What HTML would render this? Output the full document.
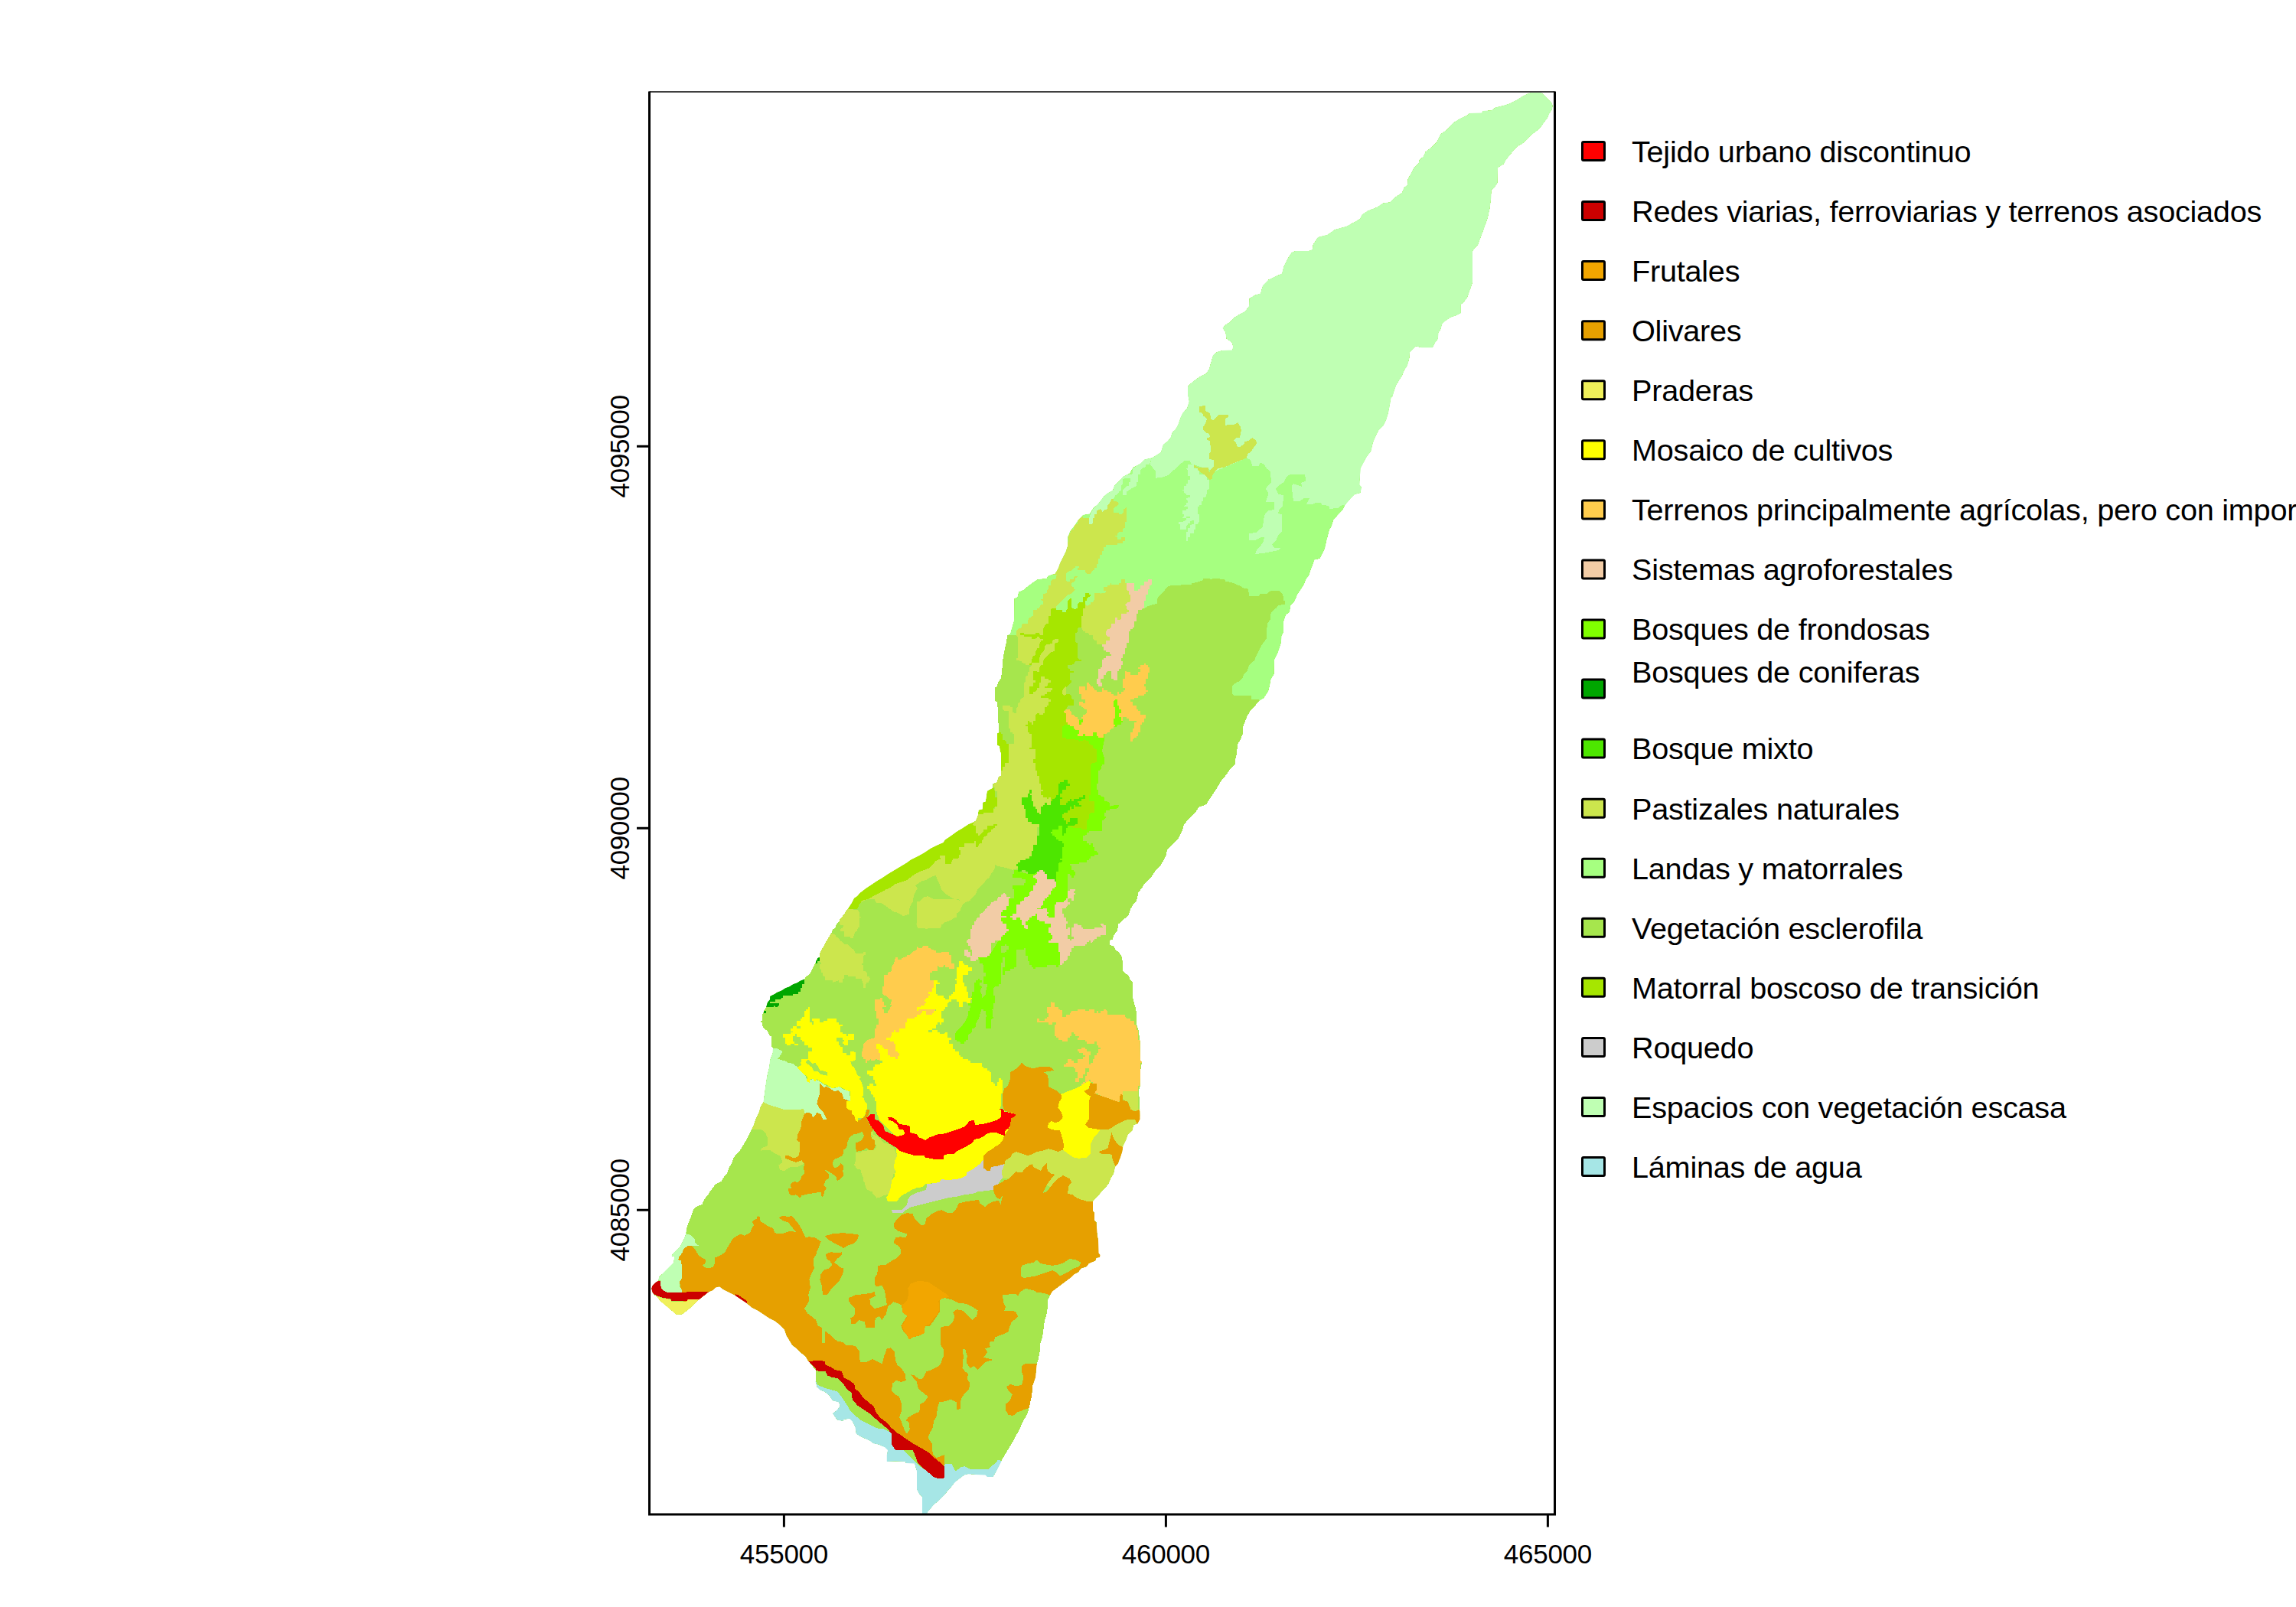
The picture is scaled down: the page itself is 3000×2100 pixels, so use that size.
<!DOCTYPE html>
<html><head><meta charset="utf-8"><title>Mapa de usos del suelo</title>
<style>html,body{margin:0;padding:0;background:#fff}body{width:3000px;height:2100px;overflow:hidden}svg{display:block}text{font-family:"Liberation Sans",sans-serif;fill:#000}</style>
</head><body>
<svg width="3000" height="2100" viewBox="0 0 3000 2100">
<rect width="3000" height="2100" fill="#fff"/>
<defs><clipPath id="oc"><path d="M1552.0,519.8 1552.0,505.0 1555.0,501.8 1561.2,496.8 1567.5,492.2 1576.2,488.0 1580.0,481.8 1582.5,473.0 1585.0,464.2 1590.0,460.0 1597.0,458.0 1610.0,457.5 1611.2,453.0 1609.5,447.5 1602.5,442.5 1601.2,434.2 1597.5,428.8 1600.5,425.0 1607.5,420.5 1612.5,415.0 1620.0,410.5 1627.0,406.8 1632.0,400.0 1632.5,390.0 1640.0,385.5 1647.0,383.5 1650.0,373.0 1657.5,365.5 1667.0,361.0 1675.0,357.5 1677.5,348.0 1682.5,338.0 1687.5,330.0 1692.5,328.0 1710.0,328.0 1715.0,326.0 1715.5,320.0 1722.0,310.0 1734.5,306.8 1744.0,300.0 1758.8,296.0 1769.2,290.5 1777.0,286.0 1779.5,280.5 1787.0,275.5 1798.8,271.0 1807.0,265.5 1816.2,264.2 1822.5,258.0 1832.0,251.8 1834.5,245.0 1839.0,241.8 1839.5,234.2 1844.5,225.0 1847.5,219.2 1853.8,213.0 1854.5,209.2 1860.0,204.2 1862.5,198.5 1871.2,191.8 1877.5,185.5 1880.0,180.0 1882.5,175.0 1890.0,170.0 1898.8,160.5 1907.5,155.0 1917.5,150.5 1919.5,148.0 1936.2,147.5 1937.5,145.0 1948.8,144.2 1953.8,140.5 1962.5,138.5 1972.0,135.5 1982.0,130.5 1988.8,126.0 1995.0,123.0 2000.0,121.0 2013.8,121.0 2018.0,124.2 2022.5,129.2 2027.0,133.5 2028.8,138.0 2028.0,143.0 2024.5,148.0 2022.0,154.2 2017.5,160.0 2013.8,165.5 2008.8,170.5 2001.2,176.0 1995.0,182.5 1989.5,187.5 1983.8,190.5 1977.5,196.8 1972.5,203.0 1967.5,209.2 1965.0,214.2 1957.0,219.2 1956.5,239.2 1952.5,245.5 1948.8,248.0 1948.2,259.2 1946.5,273.0 1943.8,285.0 1941.2,292.5 1937.0,304.2 1933.8,312.5 1931.2,320.0 1927.0,324.2 1924.0,328.5 1924.0,369.2 1921.2,377.5 1917.0,389.2 1912.0,395.5 1908.8,398.0 1908.8,409.2 1903.8,411.8 1895.0,415.0 1888.8,419.2 1884.5,423.0 1882.5,430.0 1879.5,435.0 1878.8,443.0 1875.0,448.0 1872.0,454.2 1857.5,454.2 1850.0,452.5 1845.0,457.5 1842.0,460.5 1841.5,468.0 1838.8,478.0 1835.0,483.5 1832.0,491.0 1827.5,498.0 1823.8,504.2 1821.2,511.8 1818.8,519.8 1818.0,516.0 1816.2,527.2 1813.8,539.8 1811.2,548.5 1807.5,556.0 1801.2,562.2 1797.5,569.8 1793.8,578.5 1791.2,589.8 1786.2,596.0 1782.0,603.5 1777.5,612.2 1776.2,633.5 1778.8,636.5 1777.5,644.0 1770.0,646.0 1763.8,652.2 1757.5,659.8 1754.5,666.0 1747.5,673.5 1742.0,679.8 1740.0,687.2 1737.0,692.2 1735.0,699.8 1733.0,707.2 1731.2,716.0 1728.8,721.5 1724.5,729.8 1717.5,731.5 1714.5,739.8 1712.0,746.0 1710.0,752.2 1706.2,757.2 1703.8,763.5 1700.0,769.8 1695.5,776.0 1691.2,786.0 1686.2,791.0 1685.0,799.8 1680.0,803.5 1677.0,812.2 1677.0,826.0 1674.5,831.0 1673.8,839.8 1671.2,848.5 1668.8,854.8 1665.0,862.2 1664.5,881.0 1660.0,888.5 1659.5,893.5 1657.0,903.5 1651.2,912.2 1645.0,916.0 1643.8,917.5 1638.8,923.8 1633.8,928.8 1630.0,935.0 1627.5,941.2 1624.5,948.8 1623.8,958.8 1621.2,966.2 1617.0,972.5 1616.2,983.8 1614.5,991.2 1613.8,998.8 1607.5,1005.0 1601.2,1013.8 1595.0,1021.2 1590.0,1030.0 1585.0,1037.5 1580.0,1045.0 1576.2,1051.2 1566.2,1055.0 1561.2,1062.5 1552.5,1071.2 1547.0,1077.5 1544.5,1086.2 1540.0,1095.0 1535.0,1100.0 1530.0,1105.0 1525.0,1110.0 1523.8,1117.5 1520.0,1125.0 1516.2,1131.2 1510.0,1137.5 1505.0,1145.0 1500.0,1150.0 1495.0,1155.0 1492.5,1160.0 1487.5,1166.2 1485.0,1177.5 1481.2,1181.2 1477.5,1187.5 1475.0,1195.0 1470.0,1200.0 1466.2,1203.8 1461.2,1207.5 1460.0,1216.2 1455.0,1222.5 1453.8,1227.5 1450.0,1228.8 1450.0,1235.0 1455.0,1236.2 1457.5,1241.2 1462.5,1245.0 1466.2,1251.2 1467.5,1268.8 1471.2,1272.5 1475.0,1275.0 1476.2,1280.0 1479.5,1282.5 1479.5,1301.8 1480.5,1305.0 1483.8,1317.5 1485.0,1323.8 1485.5,1340.0 1487.5,1346.2 1489.5,1360.0 1490.0,1385.0 1492.0,1387.5 1490.5,1397.5 1489.5,1420.0 1487.5,1426.2 1488.8,1435.0 1489.5,1462.5 1486.2,1468.8 1481.2,1470.0 1479.5,1477.5 1473.8,1482.5 1471.2,1490.0 1467.5,1497.5 1466.2,1505.0 1463.8,1512.5 1461.2,1520.0 1457.0,1525.0 1455.0,1533.8 1451.2,1540.0 1448.8,1546.2 1445.0,1551.2 1440.0,1556.2 1436.2,1561.2 1431.2,1566.2 1428.0,1570.0 1428.0,1582.5 1430.0,1585.0 1430.0,1595.0 1432.5,1597.5 1433.8,1615.0 1435.0,1620.0 1435.5,1637.5 1437.5,1640.0 1437.0,1643.0 1432.5,1643.8 1431.2,1647.5 1422.5,1651.2 1420.0,1655.0 1412.5,1657.5 1408.8,1662.5 1403.8,1665.0 1400.0,1668.8 1395.0,1672.5 1390.0,1676.2 1385.0,1680.0 1380.0,1683.8 1375.0,1687.5 1372.5,1691.8 1372.0,1692.5 1369.5,1697.5 1368.8,1708.8 1367.0,1720.0 1365.0,1725.0 1363.8,1735.0 1362.0,1747.5 1359.5,1755.0 1358.8,1765.0 1357.0,1775.0 1354.5,1783.8 1353.0,1800.0 1349.5,1810.0 1348.0,1825.0 1346.2,1832.5 1344.5,1840.0 1342.5,1847.5 1338.8,1853.8 1335.0,1861.2 1332.5,1867.5 1328.8,1873.8 1325.0,1881.2 1321.2,1887.5 1317.5,1893.8 1313.8,1900.0 1310.0,1906.2 1307.0,1912.5 1303.8,1918.8 1301.2,1923.8 1297.5,1930.0 1290.0,1930.0 1287.5,1927.5 1275.0,1927.0 1265.0,1926.2 1260.0,1927.5 1255.0,1931.2 1250.0,1935.0 1246.2,1938.8 1242.5,1943.8 1238.8,1947.5 1235.0,1952.5 1230.0,1957.5 1225.0,1962.5 1220.0,1966.2 1216.2,1971.2 1212.5,1975.0 1211.2,1978.0 1205.0,1978.0 1205.0,1956.2 1201.2,1952.5 1198.0,1946.2 1198.0,1922.5 1195.0,1912.5 1183.8,1912.0 1182.5,1910.0 1170.0,1909.5 1158.8,1910.0 1158.8,1901.2 1160.0,1895.0 1156.2,1891.2 1147.5,1887.5 1141.2,1886.2 1136.2,1882.5 1125.0,1877.5 1118.8,1873.8 1117.5,1865.0 1113.8,1857.5 1110.0,1853.8 1102.5,1855.0 1101.2,1857.0 1093.8,1855.5 1090.0,1850.0 1088.0,1847.0 1093.8,1842.5 1097.5,1837.5 1096.2,1832.5 1087.5,1830.0 1083.8,1823.8 1077.5,1818.8 1071.2,1816.2 1067.5,1812.5 1065.5,1805.0 1065.5,1790.0 1061.2,1785.0 1056.2,1778.8 1052.5,1772.5 1046.2,1767.5 1041.2,1762.5 1035.0,1757.5 1031.2,1751.2 1027.5,1745.0 1025.0,1737.5 1018.8,1731.2 1012.5,1726.2 1005.0,1722.5 997.5,1717.5 990.0,1712.5 982.5,1708.8 975.0,1702.5 967.5,1697.5 960.0,1692.5 952.5,1688.8 945.0,1685.0 940.0,1681.2 935.0,1682.5 931.2,1686.2 926.2,1688.0 922.5,1691.2 917.5,1695.0 912.5,1698.8 907.5,1703.8 902.5,1708.8 896.2,1713.8 891.2,1717.5 883.8,1718.0 877.5,1712.5 870.0,1706.2 862.5,1700.0 858.8,1695.0 855.0,1692.5 852.5,1688.8 851.2,1683.8 852.5,1680.0 856.2,1676.2 860.0,1673.8 861.2,1668.8 865.0,1665.0 870.0,1660.0 875.0,1655.0 880.0,1650.0 881.2,1642.5 877.5,1641.2 878.8,1638.8 883.8,1633.8 888.8,1628.8 891.2,1623.8 893.8,1618.8 896.2,1612.5 897.0,1606.2 898.8,1600.0 901.2,1593.8 903.8,1587.5 906.2,1580.0 911.2,1576.2 917.5,1573.8 920.0,1567.5 926.2,1560.0 927.5,1557.0 931.2,1552.5 935.0,1547.5 942.5,1543.8 946.2,1537.5 950.0,1533.8 952.5,1526.2 956.2,1520.0 958.8,1512.5 963.0,1507.5 967.5,1502.5 971.2,1496.2 975.0,1490.0 978.8,1482.5 982.0,1476.2 985.0,1470.0 987.5,1462.5 991.2,1455.0 993.8,1446.2 997.5,1440.0 999.5,1425.0 1001.2,1412.5 1003.0,1402.5 1005.0,1395.0 1006.2,1385.0 1009.5,1376.2 1010.0,1369.5 1008.0,1367.5 1008.1,1355.0 1006.0,1353.1 1003.8,1350.6 1003.1,1347.5 1000.6,1345.6 998.1,1343.8 996.2,1340.6 996.0,1336.2 993.1,1335.0 996.0,1333.8 996.2,1326.2 998.1,1321.2 1001.2,1315.6 1003.1,1309.4 1006.0,1306.2 1006.2,1301.9 1008.1,1301.0 1011.2,1299.4 1016.2,1296.5 1021.2,1294.4 1026.2,1291.2 1031.2,1289.4 1036.2,1286.2 1041.2,1284.4 1046.2,1281.5 1051.2,1279.4 1053.1,1276.2 1056.2,1274.4 1058.8,1271.2 1061.2,1266.2 1063.8,1261.2 1066.2,1256.2 1068.1,1251.9 1070.6,1251.2 1071.2,1246.2 1073.1,1241.2 1076.2,1236.9 1078.1,1232.5 1081.2,1227.5 1083.1,1224.4 1086.2,1219.4 1088.1,1214.4 1091.2,1212.5 1093.1,1207.5 1096.2,1204.4 1098.1,1200.0 1100.6,1197.5 1103.1,1194.4 1105.6,1190.0 1108.1,1187.5 1110.6,1183.8 1113.1,1180.0 1116.2,1173.8 1120.0,1171.2 1123.8,1167.0 1131.2,1161.2 1138.8,1156.2 1145.0,1152.0 1152.5,1147.5 1160.0,1142.5 1165.0,1139.5 1172.5,1135.0 1178.8,1131.2 1185.0,1127.5 1190.0,1123.8 1197.5,1120.0 1202.5,1117.5 1208.8,1113.8 1216.2,1108.8 1223.8,1105.0 1232.5,1101.2 1235.0,1097.5 1242.5,1092.5 1250.0,1087.0 1257.5,1082.5 1265.0,1077.5 1271.2,1075.0 1275.0,1072.5 1278.0,1065.0 1278.8,1058.8 1283.8,1057.5 1284.5,1048.8 1288.0,1047.5 1290.0,1033.8 1297.0,1030.0 1297.5,1023.8 1302.5,1022.5 1305.0,1015.0 1308.0,1013.8 1308.0,983.8 1307.0,982.5 1306.2,975.0 1303.0,973.8 1303.0,958.8 1305.0,957.5 1303.8,927.5 1303.0,917.5 1300.0,916.2 1300.0,900.0 1300.0,898.5 1302.5,897.2 1304.5,891.0 1308.0,886.0 1309.5,873.5 1310.5,861.0 1312.5,849.8 1315.0,838.5 1316.2,830.5 1320.0,828.5 1322.5,819.8 1325.0,811.0 1325.5,782.2 1329.5,780.5 1331.2,773.5 1337.5,771.0 1343.8,765.5 1350.0,761.0 1355.5,757.2 1367.5,756.0 1370.0,752.2 1378.8,749.8 1383.0,742.2 1385.0,736.0 1388.8,728.5 1392.5,721.0 1395.0,713.5 1395.5,701.0 1398.8,693.5 1403.8,687.2 1408.8,679.8 1415.0,673.0 1423.8,671.5 1428.8,663.5 1433.8,659.8 1438.8,653.5 1442.5,648.5 1447.0,644.8 1453.8,641.0 1456.2,634.8 1462.5,628.5 1467.5,623.0 1476.2,618.5 1480.5,611.0 1490.0,606.0 1495.5,600.5 1505.0,598.5 1511.2,594.8 1517.0,591.0 1520.0,581.0 1525.0,577.2 1529.5,572.2 1532.0,564.8 1536.2,561.0 1539.5,554.8 1542.5,546.0 1545.5,539.8 1551.2,533.5 1553.8,524.8 1552.5,516.0Z"/></clipPath></defs>
<g shape-rendering="crispEdges">
<path fill="#A6E64D" d="M1552.0,519.8 1552.0,505.0 1555.0,501.8 1561.2,496.8 1567.5,492.2 1576.2,488.0 1580.0,481.8 1582.5,473.0 1585.0,464.2 1590.0,460.0 1597.0,458.0 1610.0,457.5 1611.2,453.0 1609.5,447.5 1602.5,442.5 1601.2,434.2 1597.5,428.8 1600.5,425.0 1607.5,420.5 1612.5,415.0 1620.0,410.5 1627.0,406.8 1632.0,400.0 1632.5,390.0 1640.0,385.5 1647.0,383.5 1650.0,373.0 1657.5,365.5 1667.0,361.0 1675.0,357.5 1677.5,348.0 1682.5,338.0 1687.5,330.0 1692.5,328.0 1710.0,328.0 1715.0,326.0 1715.5,320.0 1722.0,310.0 1734.5,306.8 1744.0,300.0 1758.8,296.0 1769.2,290.5 1777.0,286.0 1779.5,280.5 1787.0,275.5 1798.8,271.0 1807.0,265.5 1816.2,264.2 1822.5,258.0 1832.0,251.8 1834.5,245.0 1839.0,241.8 1839.5,234.2 1844.5,225.0 1847.5,219.2 1853.8,213.0 1854.5,209.2 1860.0,204.2 1862.5,198.5 1871.2,191.8 1877.5,185.5 1880.0,180.0 1882.5,175.0 1890.0,170.0 1898.8,160.5 1907.5,155.0 1917.5,150.5 1919.5,148.0 1936.2,147.5 1937.5,145.0 1948.8,144.2 1953.8,140.5 1962.5,138.5 1972.0,135.5 1982.0,130.5 1988.8,126.0 1995.0,123.0 2000.0,121.0 2013.8,121.0 2018.0,124.2 2022.5,129.2 2027.0,133.5 2028.8,138.0 2028.0,143.0 2024.5,148.0 2022.0,154.2 2017.5,160.0 2013.8,165.5 2008.8,170.5 2001.2,176.0 1995.0,182.5 1989.5,187.5 1983.8,190.5 1977.5,196.8 1972.5,203.0 1967.5,209.2 1965.0,214.2 1957.0,219.2 1956.5,239.2 1952.5,245.5 1948.8,248.0 1948.2,259.2 1946.5,273.0 1943.8,285.0 1941.2,292.5 1937.0,304.2 1933.8,312.5 1931.2,320.0 1927.0,324.2 1924.0,328.5 1924.0,369.2 1921.2,377.5 1917.0,389.2 1912.0,395.5 1908.8,398.0 1908.8,409.2 1903.8,411.8 1895.0,415.0 1888.8,419.2 1884.5,423.0 1882.5,430.0 1879.5,435.0 1878.8,443.0 1875.0,448.0 1872.0,454.2 1857.5,454.2 1850.0,452.5 1845.0,457.5 1842.0,460.5 1841.5,468.0 1838.8,478.0 1835.0,483.5 1832.0,491.0 1827.5,498.0 1823.8,504.2 1821.2,511.8 1818.8,519.8 1818.0,516.0 1816.2,527.2 1813.8,539.8 1811.2,548.5 1807.5,556.0 1801.2,562.2 1797.5,569.8 1793.8,578.5 1791.2,589.8 1786.2,596.0 1782.0,603.5 1777.5,612.2 1776.2,633.5 1778.8,636.5 1777.5,644.0 1770.0,646.0 1763.8,652.2 1757.5,659.8 1754.5,666.0 1747.5,673.5 1742.0,679.8 1740.0,687.2 1737.0,692.2 1735.0,699.8 1733.0,707.2 1731.2,716.0 1728.8,721.5 1724.5,729.8 1717.5,731.5 1714.5,739.8 1712.0,746.0 1710.0,752.2 1706.2,757.2 1703.8,763.5 1700.0,769.8 1695.5,776.0 1691.2,786.0 1686.2,791.0 1685.0,799.8 1680.0,803.5 1677.0,812.2 1677.0,826.0 1674.5,831.0 1673.8,839.8 1671.2,848.5 1668.8,854.8 1665.0,862.2 1664.5,881.0 1660.0,888.5 1659.5,893.5 1657.0,903.5 1651.2,912.2 1645.0,916.0 1643.8,917.5 1638.8,923.8 1633.8,928.8 1630.0,935.0 1627.5,941.2 1624.5,948.8 1623.8,958.8 1621.2,966.2 1617.0,972.5 1616.2,983.8 1614.5,991.2 1613.8,998.8 1607.5,1005.0 1601.2,1013.8 1595.0,1021.2 1590.0,1030.0 1585.0,1037.5 1580.0,1045.0 1576.2,1051.2 1566.2,1055.0 1561.2,1062.5 1552.5,1071.2 1547.0,1077.5 1544.5,1086.2 1540.0,1095.0 1535.0,1100.0 1530.0,1105.0 1525.0,1110.0 1523.8,1117.5 1520.0,1125.0 1516.2,1131.2 1510.0,1137.5 1505.0,1145.0 1500.0,1150.0 1495.0,1155.0 1492.5,1160.0 1487.5,1166.2 1485.0,1177.5 1481.2,1181.2 1477.5,1187.5 1475.0,1195.0 1470.0,1200.0 1466.2,1203.8 1461.2,1207.5 1460.0,1216.2 1455.0,1222.5 1453.8,1227.5 1450.0,1228.8 1450.0,1235.0 1455.0,1236.2 1457.5,1241.2 1462.5,1245.0 1466.2,1251.2 1467.5,1268.8 1471.2,1272.5 1475.0,1275.0 1476.2,1280.0 1479.5,1282.5 1479.5,1301.8 1480.5,1305.0 1483.8,1317.5 1485.0,1323.8 1485.5,1340.0 1487.5,1346.2 1489.5,1360.0 1490.0,1385.0 1492.0,1387.5 1490.5,1397.5 1489.5,1420.0 1487.5,1426.2 1488.8,1435.0 1489.5,1462.5 1486.2,1468.8 1481.2,1470.0 1479.5,1477.5 1473.8,1482.5 1471.2,1490.0 1467.5,1497.5 1466.2,1505.0 1463.8,1512.5 1461.2,1520.0 1457.0,1525.0 1455.0,1533.8 1451.2,1540.0 1448.8,1546.2 1445.0,1551.2 1440.0,1556.2 1436.2,1561.2 1431.2,1566.2 1428.0,1570.0 1428.0,1582.5 1430.0,1585.0 1430.0,1595.0 1432.5,1597.5 1433.8,1615.0 1435.0,1620.0 1435.5,1637.5 1437.5,1640.0 1437.0,1643.0 1432.5,1643.8 1431.2,1647.5 1422.5,1651.2 1420.0,1655.0 1412.5,1657.5 1408.8,1662.5 1403.8,1665.0 1400.0,1668.8 1395.0,1672.5 1390.0,1676.2 1385.0,1680.0 1380.0,1683.8 1375.0,1687.5 1372.5,1691.8 1372.0,1692.5 1369.5,1697.5 1368.8,1708.8 1367.0,1720.0 1365.0,1725.0 1363.8,1735.0 1362.0,1747.5 1359.5,1755.0 1358.8,1765.0 1357.0,1775.0 1354.5,1783.8 1353.0,1800.0 1349.5,1810.0 1348.0,1825.0 1346.2,1832.5 1344.5,1840.0 1342.5,1847.5 1338.8,1853.8 1335.0,1861.2 1332.5,1867.5 1328.8,1873.8 1325.0,1881.2 1321.2,1887.5 1317.5,1893.8 1313.8,1900.0 1310.0,1906.2 1307.0,1912.5 1303.8,1918.8 1301.2,1923.8 1297.5,1930.0 1290.0,1930.0 1287.5,1927.5 1275.0,1927.0 1265.0,1926.2 1260.0,1927.5 1255.0,1931.2 1250.0,1935.0 1246.2,1938.8 1242.5,1943.8 1238.8,1947.5 1235.0,1952.5 1230.0,1957.5 1225.0,1962.5 1220.0,1966.2 1216.2,1971.2 1212.5,1975.0 1211.2,1978.0 1205.0,1978.0 1205.0,1956.2 1201.2,1952.5 1198.0,1946.2 1198.0,1922.5 1195.0,1912.5 1183.8,1912.0 1182.5,1910.0 1170.0,1909.5 1158.8,1910.0 1158.8,1901.2 1160.0,1895.0 1156.2,1891.2 1147.5,1887.5 1141.2,1886.2 1136.2,1882.5 1125.0,1877.5 1118.8,1873.8 1117.5,1865.0 1113.8,1857.5 1110.0,1853.8 1102.5,1855.0 1101.2,1857.0 1093.8,1855.5 1090.0,1850.0 1088.0,1847.0 1093.8,1842.5 1097.5,1837.5 1096.2,1832.5 1087.5,1830.0 1083.8,1823.8 1077.5,1818.8 1071.2,1816.2 1067.5,1812.5 1065.5,1805.0 1065.5,1790.0 1061.2,1785.0 1056.2,1778.8 1052.5,1772.5 1046.2,1767.5 1041.2,1762.5 1035.0,1757.5 1031.2,1751.2 1027.5,1745.0 1025.0,1737.5 1018.8,1731.2 1012.5,1726.2 1005.0,1722.5 997.5,1717.5 990.0,1712.5 982.5,1708.8 975.0,1702.5 967.5,1697.5 960.0,1692.5 952.5,1688.8 945.0,1685.0 940.0,1681.2 935.0,1682.5 931.2,1686.2 926.2,1688.0 922.5,1691.2 917.5,1695.0 912.5,1698.8 907.5,1703.8 902.5,1708.8 896.2,1713.8 891.2,1717.5 883.8,1718.0 877.5,1712.5 870.0,1706.2 862.5,1700.0 858.8,1695.0 855.0,1692.5 852.5,1688.8 851.2,1683.8 852.5,1680.0 856.2,1676.2 860.0,1673.8 861.2,1668.8 865.0,1665.0 870.0,1660.0 875.0,1655.0 880.0,1650.0 881.2,1642.5 877.5,1641.2 878.8,1638.8 883.8,1633.8 888.8,1628.8 891.2,1623.8 893.8,1618.8 896.2,1612.5 897.0,1606.2 898.8,1600.0 901.2,1593.8 903.8,1587.5 906.2,1580.0 911.2,1576.2 917.5,1573.8 920.0,1567.5 926.2,1560.0 927.5,1557.0 931.2,1552.5 935.0,1547.5 942.5,1543.8 946.2,1537.5 950.0,1533.8 952.5,1526.2 956.2,1520.0 958.8,1512.5 963.0,1507.5 967.5,1502.5 971.2,1496.2 975.0,1490.0 978.8,1482.5 982.0,1476.2 985.0,1470.0 987.5,1462.5 991.2,1455.0 993.8,1446.2 997.5,1440.0 999.5,1425.0 1001.2,1412.5 1003.0,1402.5 1005.0,1395.0 1006.2,1385.0 1009.5,1376.2 1010.0,1369.5 1008.0,1367.5 1008.1,1355.0 1006.0,1353.1 1003.8,1350.6 1003.1,1347.5 1000.6,1345.6 998.1,1343.8 996.2,1340.6 996.0,1336.2 993.1,1335.0 996.0,1333.8 996.2,1326.2 998.1,1321.2 1001.2,1315.6 1003.1,1309.4 1006.0,1306.2 1006.2,1301.9 1008.1,1301.0 1011.2,1299.4 1016.2,1296.5 1021.2,1294.4 1026.2,1291.2 1031.2,1289.4 1036.2,1286.2 1041.2,1284.4 1046.2,1281.5 1051.2,1279.4 1053.1,1276.2 1056.2,1274.4 1058.8,1271.2 1061.2,1266.2 1063.8,1261.2 1066.2,1256.2 1068.1,1251.9 1070.6,1251.2 1071.2,1246.2 1073.1,1241.2 1076.2,1236.9 1078.1,1232.5 1081.2,1227.5 1083.1,1224.4 1086.2,1219.4 1088.1,1214.4 1091.2,1212.5 1093.1,1207.5 1096.2,1204.4 1098.1,1200.0 1100.6,1197.5 1103.1,1194.4 1105.6,1190.0 1108.1,1187.5 1110.6,1183.8 1113.1,1180.0 1116.2,1173.8 1120.0,1171.2 1123.8,1167.0 1131.2,1161.2 1138.8,1156.2 1145.0,1152.0 1152.5,1147.5 1160.0,1142.5 1165.0,1139.5 1172.5,1135.0 1178.8,1131.2 1185.0,1127.5 1190.0,1123.8 1197.5,1120.0 1202.5,1117.5 1208.8,1113.8 1216.2,1108.8 1223.8,1105.0 1232.5,1101.2 1235.0,1097.5 1242.5,1092.5 1250.0,1087.0 1257.5,1082.5 1265.0,1077.5 1271.2,1075.0 1275.0,1072.5 1278.0,1065.0 1278.8,1058.8 1283.8,1057.5 1284.5,1048.8 1288.0,1047.5 1290.0,1033.8 1297.0,1030.0 1297.5,1023.8 1302.5,1022.5 1305.0,1015.0 1308.0,1013.8 1308.0,983.8 1307.0,982.5 1306.2,975.0 1303.0,973.8 1303.0,958.8 1305.0,957.5 1303.8,927.5 1303.0,917.5 1300.0,916.2 1300.0,900.0 1300.0,898.5 1302.5,897.2 1304.5,891.0 1308.0,886.0 1309.5,873.5 1310.5,861.0 1312.5,849.8 1315.0,838.5 1316.2,830.5 1320.0,828.5 1322.5,819.8 1325.0,811.0 1325.5,782.2 1329.5,780.5 1331.2,773.5 1337.5,771.0 1343.8,765.5 1350.0,761.0 1355.5,757.2 1367.5,756.0 1370.0,752.2 1378.8,749.8 1383.0,742.2 1385.0,736.0 1388.8,728.5 1392.5,721.0 1395.0,713.5 1395.5,701.0 1398.8,693.5 1403.8,687.2 1408.8,679.8 1415.0,673.0 1423.8,671.5 1428.8,663.5 1433.8,659.8 1438.8,653.5 1442.5,648.5 1447.0,644.8 1453.8,641.0 1456.2,634.8 1462.5,628.5 1467.5,623.0 1476.2,618.5 1480.5,611.0 1490.0,606.0 1495.5,600.5 1505.0,598.5 1511.2,594.8 1517.0,591.0 1520.0,581.0 1525.0,577.2 1529.5,572.2 1532.0,564.8 1536.2,561.0 1539.5,554.8 1542.5,546.0 1545.5,539.8 1551.2,533.5 1553.8,524.8 1552.5,516.0Z"/>
<g clip-path="url(#oc)">
<path fill="#A6FF80" d="M1290.0,503.5 1865.0,503.5 1865.0,691.0 1715.0,917.8 1645.0,917.8 1645.0,914.0 1635.5,913.5 1635.0,909.0 1612.5,908.5 1610.0,907.2 1610.0,896.0 1615.0,892.2 1620.0,889.8 1623.8,886.0 1625.0,881.0 1630.0,876.0 1631.2,871.0 1635.0,866.0 1638.8,863.5 1641.2,857.2 1643.8,852.2 1646.2,847.2 1650.0,841.0 1654.5,834.8 1655.0,823.5 1656.2,814.8 1659.5,809.8 1660.0,802.2 1663.8,797.2 1667.5,794.8 1670.0,791.0 1678.8,789.8 1679.5,786.0 1677.5,784.8 1676.2,777.2 1671.2,772.2 1660.0,772.2 1656.2,775.5 1646.2,776.5 1645.0,778.5 1632.0,779.0 1631.2,769.8 1625.0,768.5 1621.2,766.0 1615.0,763.5 1608.8,761.0 1601.2,759.8 1600.0,757.2 1590.0,756.0 1581.2,756.8 1580.0,755.5 1572.5,755.5 1571.2,758.5 1563.8,761.0 1557.5,762.2 1556.2,764.2 1530.0,764.8 1525.0,767.2 1521.2,772.2 1516.2,777.2 1512.0,782.2 1512.0,788.5 1507.5,789.8 1500.0,792.2 1495.0,795.0 1465.0,803.5 1418.0,803.5 1375.0,806.0 1352.5,816.0 1328.0,830.0 1315.0,830.0 1290.0,830.0Z"/>
<path fill="#BFFFB3" d="M1415.0,116.0 2040.0,116.0 2040.0,656.0 1757.0,659.8 1752.5,660.5 1748.8,664.0 1737.5,664.8 1736.2,661.0 1727.5,659.8 1726.2,657.2 1718.8,657.2 1715.0,659.0 1707.5,658.5 1711.2,650.5 1703.8,651.0 1697.5,655.5 1690.0,654.8 1687.5,634.8 1690.0,632.2 1701.2,636.0 1700.0,631.0 1706.2,628.5 1705.0,619.8 1685.0,620.5 1681.2,623.0 1677.5,629.8 1672.5,633.5 1667.0,638.5 1670.0,645.5 1677.0,647.2 1676.2,661.0 1665.0,654.8 1653.8,656.0 1657.5,644.8 1653.8,638.5 1661.2,629.8 1659.5,616.0 1655.0,612.2 1651.2,606.0 1646.2,604.8 1645.0,609.0 1636.2,608.5 1633.8,601.0 1628.8,598.5 1587.5,616.0 1560.0,607.2 1556.2,606.0 1555.0,602.2 1547.5,602.2 1541.2,607.2 1536.2,612.2 1530.0,617.2 1526.2,621.0 1518.8,623.5 1510.0,624.8 1509.5,614.8 1502.5,607.2 1505.0,598.5 1415.0,598.5Z"/>
<path fill="#BFFFB3" d="M1653.8,656.0 1665.0,654.8 1676.2,661.0 1671.2,666.0 1670.0,671.0 1674.5,672.2 1674.5,694.8 1670.0,699.8 1667.5,706.0 1662.0,711.0 1665.0,716.0 1673.8,715.5 1670.0,719.0 1650.0,723.0 1640.0,724.0 1642.0,718.5 1650.0,709.8 1652.0,702.2 1647.5,702.2 1640.0,706.0 1632.0,706.0 1632.0,697.2 1641.2,696.0 1650.0,688.5 1651.2,678.5 1653.0,671.0 1657.5,667.2 1665.0,666.0 1664.5,655.5Z"/>
<path fill="#BFFFB3" d="M1551.9,607.2 1551.9,611.9 1550.0,612.5 1551.9,614.4 1552.2,621.9 1555.0,622.2 1555.0,626.9 1552.2,627.2 1551.9,631.9 1550.0,632.5 1549.8,635.0 1547.2,635.2 1546.9,640.0 1545.0,640.6 1547.2,641.9 1547.2,644.4 1550.0,645.0 1550.0,646.9 1555.0,647.2 1555.0,649.8 1552.2,650.0 1550.0,651.9 1551.9,655.0 1551.9,656.9 1550.0,657.5 1549.8,660.0 1547.2,660.6 1547.2,661.9 1551.9,662.2 1551.9,664.8 1550.0,665.0 1549.8,666.9 1545.0,667.5 1545.0,671.9 1546.9,672.2 1546.9,675.0 1545.0,676.9 1550.0,676.9 1550.0,675.0 1555.0,675.0 1555.0,676.9 1550.0,677.5 1549.8,679.4 1545.0,681.9 1540.0,682.2 1540.0,684.8 1541.9,685.0 1542.2,691.9 1549.8,691.9 1550.0,686.9 1551.9,686.2 1552.2,684.4 1555.0,683.8 1555.0,681.9 1557.2,680.0 1560.0,680.0 1559.8,684.8 1557.2,685.2 1555.0,686.9 1555.0,689.8 1551.9,690.0 1551.9,695.0 1550.0,695.2 1550.0,706.9 1551.9,706.9 1552.2,701.9 1555.0,701.5 1555.0,697.2 1559.8,696.9 1560.0,691.9 1561.9,691.5 1562.2,685.0 1565.0,684.8 1566.9,681.9 1566.9,671.9 1565.0,671.5 1565.0,662.2 1566.9,661.9 1567.2,660.0 1570.0,659.8 1570.2,655.0 1572.2,654.8 1572.5,650.0 1575.0,649.8 1576.9,645.0 1577.2,640.0 1580.0,639.4 1580.2,627.2 1577.2,626.9 1576.9,622.2 1575.0,621.9 1574.8,619.8 1567.2,619.8 1566.9,615.0 1565.0,614.8 1565.0,612.2 1560.2,611.9 1560.0,606.9 1556.9,606.9Z"/>
<path fill="#BFFFB3" d="M1505.0,596.9 1501.9,606.9 1497.5,606.9 1497.2,610.0 1492.5,611.9 1490.0,615.0 1489.8,620.0 1487.2,620.2 1486.9,630.0 1485.0,630.6 1484.8,635.0 1480.0,637.5 1475.0,640.6 1472.5,642.5 1471.9,646.9 1467.2,646.9 1467.2,640.0 1472.5,635.0 1475.0,634.4 1475.0,630.0 1476.9,629.8 1476.9,625.0 1467.2,625.6 1466.9,632.5 1465.0,635.0 1465.0,641.2 1461.9,641.9 1461.2,645.0 1456.9,647.5 1455.0,652.5 1452.5,652.2 1450.0,657.5 1447.2,660.0 1446.9,665.0 1442.5,666.9 1440.0,670.0 1439.8,666.9 1437.5,665.0 1433.1,667.5 1432.8,671.9 1430.0,672.5 1429.8,676.9 1428.1,677.5 1427.8,684.4 1423.1,684.8 1423.1,677.5 1425.0,671.2 1430.0,663.1 1435.0,657.5 1438.1,652.5 1442.5,647.2 1447.5,642.5 1455.0,640.0 1455.2,632.5 1462.5,626.9 1467.2,622.2 1472.5,620.0 1480.0,619.4 1480.2,612.5 1487.5,606.9 1492.5,601.9 1495.0,600.0Z"/>
<path fill="#CCE64D" d="M1567.0,531.5 1574.5,529.8 1575.0,537.2 1581.2,539.8 1582.0,548.0 1585.0,549.0 1592.5,542.2 1604.5,541.8 1604.5,544.8 1601.2,547.2 1600.5,556.0 1606.2,554.8 1611.2,555.5 1617.5,552.2 1620.5,557.2 1622.0,562.2 1620.0,571.5 1615.0,572.2 1612.0,576.0 1615.0,578.5 1617.0,584.0 1621.2,583.5 1625.5,579.8 1626.2,577.2 1631.2,576.0 1636.2,572.2 1641.2,575.5 1642.0,579.8 1638.8,583.5 1635.0,589.8 1630.0,593.5 1628.8,598.5 1622.5,601.0 1615.0,604.0 1607.5,607.2 1600.0,610.5 1591.2,612.2 1587.5,616.0 1584.5,621.0 1583.8,626.0 1580.5,627.2 1580.0,631.5 1579.5,626.0 1576.2,622.2 1571.2,619.0 1566.2,614.8 1564.5,612.2 1560.0,610.5 1560.0,607.2 1565.0,610.5 1571.2,610.5 1578.8,611.5 1580.0,618.5 1581.2,614.8 1586.2,609.8 1585.5,601.0 1580.0,599.8 1580.0,592.2 1582.0,591.0 1581.2,576.0 1577.0,574.8 1577.5,572.2 1581.2,571.0 1580.0,567.2 1575.0,564.8 1572.0,561.0 1572.5,557.2 1575.0,553.5 1577.0,547.2 1572.5,543.5 1571.2,539.8 1567.0,538.5Z"/>
<path fill="#CCE64D" d="M1452.5,652.2 1455.0,652.5 1455.0,655.0 1460.0,655.6 1461.9,658.1 1460.0,661.2 1456.9,662.5 1455.0,665.0 1455.0,670.0 1461.9,670.2 1462.5,671.9 1465.0,671.9 1467.5,670.0 1467.5,665.6 1470.0,665.0 1471.9,662.2 1471.9,681.9 1470.0,682.5 1469.8,690.0 1467.5,690.6 1466.9,695.0 1462.5,695.2 1460.0,697.2 1460.0,700.0 1456.9,700.6 1460.0,701.9 1460.2,705.0 1465.0,704.8 1465.2,702.2 1469.8,702.2 1469.8,706.9 1466.9,707.5 1466.9,709.8 1460.0,710.0 1459.8,711.9 1445.0,712.2 1444.8,714.8 1442.2,715.0 1441.9,720.0 1440.0,720.2 1439.8,725.0 1437.5,725.2 1437.2,730.0 1435.0,730.2 1434.8,736.9 1432.8,737.2 1432.5,741.9 1430.0,742.2 1429.8,745.0 1427.8,745.2 1425.0,749.8 1420.0,749.8 1418.1,746.9 1417.8,745.0 1408.1,744.8 1408.1,742.2 1409.8,741.9 1409.8,740.0 1405.6,740.0 1405.0,741.9 1402.8,742.2 1400.0,745.0 1398.8,745.0 1398.8,692.5 1400.0,692.5 1402.8,692.2 1403.1,687.5 1405.0,685.2 1408.1,684.8 1408.1,680.0 1410.0,677.5 1415.0,675.0 1415.2,677.2 1423.1,676.9 1423.1,684.8 1427.8,684.4 1428.1,677.5 1429.8,676.9 1430.0,672.5 1432.8,671.9 1433.1,667.5 1437.5,665.0 1439.8,666.9 1440.0,670.0 1442.5,666.9 1446.9,665.0 1447.2,660.0 1450.0,657.5Z"/>
<path fill="#CCE64D" d="M1400.5,692.5 1396.2,701.0 1395.0,713.5 1392.5,721.0 1388.8,728.5 1385.0,736.0 1382.5,738.8 1405.5,738.8 1405.5,692.5Z"/>
<path fill="#CCE64D" d="M1383.1,738.8 1405.0,738.8 1402.5,743.1 1400.0,745.6 1395.0,746.9 1393.1,750.0 1393.1,759.4 1397.5,760.0 1398.1,757.5 1403.1,756.9 1403.8,752.5 1407.5,752.5 1407.5,754.4 1405.0,755.0 1404.4,759.4 1400.0,762.5 1400.0,766.2 1403.1,766.9 1403.1,770.0 1405.0,770.6 1403.1,772.5 1400.0,775.6 1395.0,777.5 1393.1,780.0 1390.0,782.5 1388.1,785.0 1385.0,787.5 1382.5,790.0 1380.0,791.9 1380.0,795.6 1385.0,840.0 1377.5,865.0 1375.0,902.5 1372.8,915.0 1370.0,917.5 1368.1,921.2 1365.0,924.4 1365.0,931.2 1362.5,933.8 1358.1,931.9 1353.1,934.4 1353.1,940.9 1318.1,940.9 1318.1,928.8 1312.5,928.8 1310.0,926.2 1310.0,921.9 1320.0,921.9 1320.6,923.8 1323.1,924.4 1323.1,931.2 1327.5,931.9 1328.1,928.8 1330.0,928.1 1330.0,918.8 1333.1,918.1 1333.1,914.4 1338.1,911.2 1338.1,907.5 1340.0,906.9 1340.0,903.8 1338.1,902.5 1338.1,891.9 1340.0,891.2 1340.0,883.8 1343.1,883.1 1343.1,878.8 1345.0,878.1 1345.0,872.5 1348.1,868.8 1345.0,868.8 1340.0,868.8 1340.0,866.9 1335.0,866.2 1334.8,863.8 1328.1,863.1 1328.1,860.0 1330.0,859.4 1330.0,831.9 1328.1,831.2 1328.1,825.0 1330.0,821.9 1334.8,820.0 1335.0,815.6 1342.5,815.0 1343.1,810.6 1345.0,807.5 1348.1,805.6 1350.0,805.0 1350.0,797.5 1354.8,796.9 1355.0,795.0 1358.1,794.4 1360.0,790.0 1363.1,789.4 1363.1,785.0 1360.2,784.4 1360.2,782.5 1363.1,782.5 1363.1,776.2 1367.8,775.0 1368.1,771.2 1370.0,770.0 1370.0,765.6 1372.8,765.0 1373.1,760.0 1375.0,757.5 1380.0,756.2 1380.0,752.5 1382.5,750.6 1370.0,750.6Z"/>
<path fill="#CCE64D" d="M1441.9,767.5 1446.9,766.9 1447.5,765.0 1450.6,764.4 1450.6,762.2 1451.9,762.5 1451.9,764.4 1461.9,764.4 1462.5,762.2 1465.0,761.9 1465.0,757.2 1469.8,757.2 1470.0,761.9 1471.9,762.5 1471.9,771.2 1475.0,771.9 1475.0,776.9 1476.9,777.5 1476.9,786.2 1473.1,787.2 1470.0,790.6 1471.9,791.9 1472.2,796.2 1474.8,797.5 1474.8,800.0 1471.9,800.6 1471.5,801.9 1465.0,802.2 1464.8,809.4 1460.0,809.8 1459.8,807.2 1457.2,807.2 1456.9,814.8 1452.2,815.0 1451.9,820.0 1449.8,821.9 1446.9,822.5 1445.0,825.6 1445.0,829.4 1446.9,831.9 1449.8,832.5 1449.8,836.9 1445.0,837.5 1444.8,841.9 1433.1,841.9 1432.8,836.9 1430.0,836.5 1427.5,834.4 1427.5,830.0 1422.8,829.8 1422.5,827.5 1417.8,826.9 1417.5,825.0 1414.8,824.4 1414.4,821.9 1412.8,820.0 1413.1,805.6 1414.8,804.8 1415.0,795.0 1418.1,794.4 1418.1,790.0 1420.0,791.9 1425.0,789.4 1425.0,787.2 1428.1,786.9 1430.0,782.5 1430.0,775.2 1437.5,775.0 1438.1,776.9 1440.0,775.0 1445.0,774.4 1445.0,772.2 1441.9,771.9Z"/>
<path fill="#A6E600" d="M1373.1,796.9 1375.0,795.0 1380.0,795.0 1380.0,796.9 1388.1,796.9 1388.1,799.8 1392.8,799.8 1393.1,796.9 1395.2,796.2 1395.2,785.0 1398.1,781.9 1399.8,782.5 1400.0,794.4 1403.1,795.0 1403.8,796.5 1407.5,795.0 1408.1,790.0 1410.0,787.2 1415.0,786.9 1415.2,780.2 1418.1,779.8 1418.1,775.2 1422.5,775.0 1423.1,776.9 1425.0,777.5 1424.4,779.8 1422.5,780.0 1420.0,781.9 1420.0,785.0 1417.8,785.6 1418.1,794.4 1415.0,795.0 1414.8,804.8 1413.1,805.6 1412.8,820.0 1410.0,820.0 1408.1,821.9 1408.1,826.2 1405.0,827.5 1405.0,839.4 1408.1,840.0 1408.1,860.0 1410.0,861.9 1413.1,862.5 1412.8,863.8 1405.0,864.4 1403.1,868.1 1395.2,869.4 1395.2,873.1 1398.1,874.4 1398.1,876.9 1403.1,877.2 1403.1,878.8 1398.1,879.4 1398.1,888.8 1400.0,889.4 1400.0,891.2 1397.8,893.8 1395.0,896.2 1392.5,898.8 1390.0,899.4 1388.1,902.5 1388.1,907.5 1390.0,908.8 1392.5,908.1 1393.1,906.9 1397.5,907.5 1400.0,910.0 1400.0,913.1 1403.1,914.4 1403.1,921.2 1400.0,921.9 1399.4,919.4 1395.6,919.4 1395.0,923.8 1393.1,924.4 1393.1,926.9 1392.8,940.9 1353.1,940.9 1353.1,934.4 1355.0,933.8 1358.1,931.9 1362.5,933.8 1365.0,931.2 1365.0,923.8 1368.1,921.2 1370.0,916.9 1372.5,916.2 1372.8,914.4 1370.0,911.9 1360.0,911.5 1360.0,909.4 1365.0,908.8 1368.1,903.8 1372.5,903.1 1375.0,901.2 1375.0,899.4 1365.0,898.8 1365.0,896.9 1368.1,896.2 1372.5,891.2 1372.8,889.4 1370.0,886.9 1365.0,886.5 1364.8,884.4 1360.2,884.4 1360.0,891.9 1358.1,892.5 1358.1,898.8 1355.0,899.4 1353.1,902.5 1350.0,903.8 1350.0,906.9 1345.0,906.9 1345.0,899.4 1348.1,896.9 1350.0,896.2 1350.0,891.9 1352.5,891.2 1352.5,888.8 1350.2,888.8 1350.0,876.9 1355.0,876.9 1355.0,878.8 1357.5,878.8 1357.8,872.5 1360.0,869.4 1362.8,868.8 1363.1,863.8 1365.0,860.0 1368.1,857.5 1372.5,853.1 1372.8,851.9 1378.1,851.2 1378.1,841.9 1380.0,840.0 1382.8,839.4 1382.8,835.0 1378.1,835.2 1375.0,837.5 1375.0,841.2 1368.1,841.9 1365.0,845.0 1365.0,848.1 1363.1,851.9 1360.0,855.0 1358.1,860.0 1357.8,866.2 1348.1,866.5 1347.8,868.8 1345.0,868.8 1345.0,866.9 1348.1,866.2 1348.1,861.9 1350.0,856.9 1353.1,856.2 1353.1,851.9 1355.0,847.5 1358.1,846.9 1358.1,841.9 1360.0,837.5 1362.8,836.9 1363.1,835.0 1358.1,834.4 1358.1,831.9 1355.0,831.9 1354.8,834.4 1348.1,834.8 1347.8,832.2 1338.1,831.9 1338.1,829.8 1333.1,829.8 1333.1,827.2 1338.1,827.2 1338.1,829.4 1352.5,829.4 1353.1,827.2 1357.5,827.2 1358.1,829.4 1362.8,829.8 1363.1,821.9 1365.0,817.5 1368.1,815.0 1370.0,814.4 1370.0,805.0 1373.1,804.8Z"/>
<path fill="#F2CCA6" d="M1471.9,762.2 1481.9,762.2 1481.9,771.9 1486.9,771.9 1487.5,770.0 1490.0,769.8 1490.0,765.0 1495.0,765.0 1495.0,760.0 1500.0,759.8 1500.0,757.2 1504.8,757.2 1504.8,764.4 1502.5,765.0 1502.2,770.0 1500.0,770.6 1499.8,776.9 1496.9,777.5 1496.9,785.0 1495.0,785.6 1494.8,795.0 1491.9,795.2 1491.5,796.9 1487.2,797.2 1486.9,801.9 1485.0,802.2 1484.8,811.9 1482.2,812.5 1481.9,820.0 1480.0,820.6 1479.8,821.9 1476.9,822.5 1476.5,825.0 1475.0,825.2 1474.8,840.0 1471.9,840.2 1471.9,846.9 1470.0,847.2 1469.8,855.0 1466.9,855.2 1466.9,860.0 1465.0,860.2 1465.0,863.8 1466.9,864.0 1466.9,868.8 1465.0,869.0 1464.8,873.8 1461.9,874.4 1461.9,876.9 1460.0,877.2 1459.8,888.8 1455.2,888.8 1455.0,886.9 1452.2,886.5 1451.9,877.2 1447.5,876.9 1445.0,879.4 1444.8,881.9 1441.9,882.5 1441.9,886.9 1438.1,887.2 1438.1,891.9 1440.0,892.2 1439.8,896.9 1435.0,896.9 1434.8,894.4 1433.1,894.0 1432.8,887.2 1434.8,886.9 1435.0,874.4 1438.1,873.8 1438.1,871.9 1439.8,871.5 1440.0,861.9 1441.9,861.5 1442.2,860.0 1445.0,859.8 1445.0,857.2 1451.9,856.9 1451.9,855.0 1450.0,854.4 1449.8,851.9 1445.0,851.9 1444.8,850.0 1441.9,849.8 1441.5,845.0 1440.0,844.8 1440.0,841.9 1444.8,841.9 1445.0,837.5 1449.8,836.9 1449.8,832.5 1446.9,831.9 1445.0,829.4 1445.0,825.6 1446.9,822.5 1449.8,821.9 1451.9,820.0 1452.2,815.0 1456.9,814.8 1457.2,807.2 1459.8,807.2 1460.0,809.8 1464.8,809.4 1465.0,802.2 1471.5,801.9 1471.9,800.6 1474.8,800.0 1474.8,797.5 1472.2,796.2 1471.9,791.9 1470.0,790.6 1473.1,787.2 1476.9,786.2 1476.9,777.5 1475.0,776.9 1475.0,771.9 1471.9,771.2Z"/>
<path fill="#CCE64D" d="M1343.1,877.5 1343.1,883.8 1340.2,884.4 1340.0,891.9 1338.1,892.2 1337.8,911.2 1335.0,911.9 1333.1,914.4 1332.8,918.8 1330.0,919.4 1329.8,924.4 1328.1,924.8 1327.8,931.9 1323.1,931.9 1322.8,924.4 1320.0,924.0 1319.8,922.2 1310.2,922.2 1310.0,926.2 1312.8,926.5 1313.1,929.0 1318.1,929.4 1318.1,951.9 1320.0,952.2 1320.2,956.9 1322.8,957.2 1323.1,959.0 1325.0,959.4 1325.0,971.9 1318.1,972.2 1318.1,996.9 1313.1,997.2 1312.8,1001.5 1310.0,1001.9 1309.8,1006.9 1308.1,1007.2 1308.1,1013.8 1305.0,1014.4 1303.1,1017.5 1300.0,1021.9 1298.1,1024.4 1298.1,1028.8 1300.0,1029.0 1300.2,1034.0 1303.1,1034.4 1303.1,1053.1 1300.0,1053.8 1299.8,1056.9 1298.1,1057.5 1297.8,1061.9 1285.0,1062.2 1284.8,1063.8 1280.0,1064.0 1267.5,1067.5 1267.5,1080.9 1392.5,1080.9 1392.5,877.5Z"/>
<path fill="#CCE64D" d="M1275.0,1075.0 1355.0,1075.0 1355.0,1125.0 1330.0,1130.0 1330.0,1135.0 1323.0,1136.8 1315.0,1134.0 1303.0,1131.8 1300.0,1129.2 1299.8,1134.0 1297.8,1138.8 1294.8,1141.8 1292.8,1146.8 1289.8,1149.0 1287.2,1151.8 1282.8,1156.8 1279.8,1159.2 1277.5,1161.8 1274.8,1168.8 1272.5,1171.5 1269.8,1173.8 1267.5,1176.8 1262.2,1178.8 1257.8,1181.8 1255.0,1177.5 1252.5,1175.0 1246.2,1174.5 1240.0,1171.2 1235.0,1167.5 1230.0,1162.5 1227.5,1155.0 1224.5,1148.8 1222.5,1143.8 1216.2,1146.2 1210.0,1150.0 1205.0,1151.2 1198.8,1155.0 1196.2,1157.5 1198.8,1161.2 1196.2,1165.0 1193.8,1171.2 1192.5,1178.8 1188.8,1185.0 1187.5,1195.0 1178.8,1196.2 1172.5,1192.5 1166.2,1191.2 1162.5,1187.5 1157.5,1183.8 1151.2,1180.0 1145.0,1179.5 1142.5,1175.0 1138.8,1174.5 1133.8,1175.0 1105.0,1187.5 1105.0,1150.0 1205.0,1100.0Z"/>
<path fill="#CCE64D" d="M1198.8,1180.0 1207.5,1172.5 1212.5,1171.2 1220.0,1175.0 1230.0,1174.5 1240.0,1175.0 1247.5,1174.5 1255.0,1177.5 1257.8,1181.8 1254.8,1189.2 1252.5,1191.8 1250.0,1193.8 1247.5,1198.8 1242.5,1202.5 1235.0,1205.0 1230.0,1208.8 1228.8,1212.5 1198.8,1212.5 1197.5,1207.5 1200.0,1201.2 1205.0,1198.8 1207.5,1192.5 1205.0,1187.5 1200.0,1185.0Z"/>
<path fill="#A6E600" d="M1298.0,1029.0 1300.0,1034.2 1300.2,1041.8 1303.0,1042.2 1303.0,1053.8 1300.0,1054.2 1298.0,1056.8 1297.8,1061.5 1285.0,1061.8 1284.8,1064.0 1278.0,1064.0 1273.8,1072.5 1271.2,1078.0 1273.0,1078.8 1275.0,1079.0 1275.2,1088.8 1278.0,1089.0 1278.5,1091.8 1280.0,1091.5 1282.8,1088.8 1285.2,1086.2 1285.5,1084.0 1290.0,1083.8 1290.2,1079.2 1298.0,1079.0 1298.0,1077.5 1302.8,1077.2 1302.8,1078.8 1300.0,1079.2 1299.8,1081.8 1295.2,1084.2 1295.0,1086.5 1290.2,1089.2 1290.0,1091.8 1285.2,1094.0 1285.0,1096.8 1282.8,1099.0 1282.5,1101.8 1280.0,1102.2 1277.8,1106.8 1275.0,1106.5 1275.0,1099.2 1273.0,1099.0 1272.8,1101.8 1260.0,1102.2 1259.8,1106.8 1253.0,1107.2 1252.8,1110.0 1255.0,1111.8 1254.8,1116.8 1252.8,1117.2 1252.5,1121.5 1245.0,1122.5 1242.5,1128.8 1235.5,1128.8 1235.0,1117.5 1227.5,1117.5 1228.8,1122.5 1222.5,1125.0 1218.8,1130.0 1215.0,1133.8 1210.0,1136.2 1202.5,1138.8 1195.0,1142.5 1190.0,1146.2 1185.0,1150.0 1177.5,1152.5 1170.0,1155.0 1165.0,1158.8 1157.5,1162.5 1152.5,1165.0 1145.0,1168.8 1138.8,1172.5 1133.8,1175.0 1126.2,1177.0 1122.5,1182.5 1120.0,1187.5 1111.2,1187.5 1105.0,1187.5 1105.0,1150.0 1205.0,1100.0 1267.5,1062.5 1292.5,1025.0Z"/>
<path fill="#A6E600" d="M1303.1,957.2 1308.1,957.2 1308.5,959.0 1310.0,959.4 1310.2,966.9 1312.8,967.2 1315.0,969.4 1315.2,971.9 1318.1,972.2 1318.1,996.9 1313.1,997.2 1312.8,1001.5 1310.0,1001.9 1309.8,1006.9 1308.1,1007.2 1298.8,1007.2 1298.8,957.2Z"/>
<path fill="#80FF00" d="M1388.1,949.4 1390.0,949.0 1390.2,947.2 1395.0,946.9 1405.0,942.5 1455.0,930.0 1455.0,916.9 1457.5,913.8 1459.8,914.0 1460.0,921.5 1461.9,921.9 1462.2,926.9 1465.0,927.2 1465.0,931.5 1462.2,931.9 1462.5,936.5 1464.8,936.9 1465.0,942.2 1467.2,941.9 1467.2,943.8 1465.0,944.4 1464.8,946.9 1460.0,947.5 1459.8,949.4 1456.9,949.8 1455.0,949.0 1454.8,951.9 1452.5,952.2 1450.0,954.0 1449.8,956.9 1447.5,957.2 1445.0,959.0 1442.5,959.4 1442.5,968.8 1440.0,981.9 1442.5,988.8 1442.5,998.8 1440.0,999.4 1438.1,1006.2 1435.0,1006.9 1435.0,1023.8 1433.1,1024.4 1433.1,1031.9 1435.0,1032.2 1435.0,1038.8 1442.5,1041.9 1442.5,1046.9 1450.0,1048.8 1450.0,1053.8 1457.5,1051.9 1461.9,1052.2 1461.9,1054.0 1460.0,1056.2 1450.0,1056.9 1449.8,1058.8 1445.0,1059.0 1442.5,1063.8 1442.5,1066.9 1445.0,1067.5 1442.5,1071.2 1440.0,1071.9 1440.0,1086.2 1419.8,1086.2 1420.0,1069.0 1422.5,1068.8 1422.5,1062.5 1429.8,1061.9 1429.8,1054.8 1427.8,1054.4 1427.5,1047.2 1422.5,1046.9 1422.5,1039.4 1424.8,1038.8 1425.0,999.4 1428.1,996.9 1432.8,996.2 1432.5,979.4 1428.1,976.9 1428.1,974.4 1423.1,971.9 1422.5,968.8 1417.5,966.9 1410.0,968.8 1407.5,964.0 1403.8,964.0 1403.1,966.2 1393.1,966.2 1392.8,964.0 1388.1,963.8Z"/>
<path fill="#80FF00" d="M1425.0,1010.0 1435.0,1010.0 1435.0,1023.5 1433.1,1024.0 1433.1,1031.9 1435.0,1032.2 1435.2,1039.0 1437.8,1039.4 1438.1,1041.9 1441.9,1042.2 1442.2,1046.9 1446.9,1047.2 1447.2,1049.0 1450.0,1049.4 1450.2,1053.8 1456.9,1053.5 1457.2,1051.9 1461.9,1052.2 1461.5,1054.0 1459.8,1054.4 1459.4,1056.5 1450.2,1056.9 1450.0,1058.8 1445.2,1059.0 1445.0,1061.5 1442.2,1061.9 1441.9,1066.9 1445.0,1067.2 1445.0,1068.8 1442.2,1069.0 1441.9,1071.9 1440.0,1072.2 1439.8,1081.9 1438.1,1081.9 1437.8,1077.2 1430.2,1077.2 1430.0,1079.0 1428.1,1079.0 1427.8,1067.2 1425.0,1067.5 1424.8,1069.4 1423.1,1069.8 1423.1,1079.0 1425.0,1079.4 1424.8,1085.0 1423.1,1085.6 1422.8,1088.1 1420.0,1088.5 1419.8,1091.2 1415.2,1091.9 1415.0,1098.8 1419.8,1099.0 1420.0,1101.5 1423.1,1101.9 1423.5,1103.5 1425.0,1103.8 1425.2,1101.9 1427.8,1101.9 1428.1,1106.9 1430.0,1107.2 1430.2,1111.5 1432.5,1111.9 1432.8,1113.8 1435.0,1114.0 1434.8,1116.9 1430.0,1117.2 1429.8,1119.0 1425.2,1119.4 1425.0,1121.5 1423.1,1121.9 1422.8,1124.0 1420.0,1124.4 1419.8,1126.5 1410.2,1126.9 1410.0,1129.0 1398.1,1129.4 1398.1,1131.2 1400.0,1131.5 1400.2,1136.5 1402.8,1136.9 1403.1,1138.8 1405.0,1139.0 1405.0,1143.8 1403.1,1144.0 1402.8,1146.9 1400.2,1146.9 1400.0,1144.0 1398.1,1143.8 1397.8,1141.9 1395.0,1142.2 1394.8,1173.8 1392.8,1174.0 1392.5,1176.5 1390.0,1176.9 1389.8,1178.8 1380.2,1179.0 1380.0,1181.9 1378.1,1182.2 1377.8,1198.5 1370.2,1198.8 1370.0,1196.9 1367.8,1196.5 1362.5,1185.0 1362.5,1172.5 1375.0,1153.8 1375.0,1090.0 1373.1,1088.1 1375.0,1084.0 1382.8,1083.8 1383.1,1079.0 1387.8,1079.0 1387.8,1091.9 1389.8,1091.9 1390.0,1089.0 1392.5,1088.8 1392.8,1082.2 1394.8,1081.9 1395.0,1079.4 1403.1,1079.4 1403.1,1081.9 1413.1,1082.2 1413.5,1083.8 1420.0,1083.8 1420.0,1072.5 1423.1,1068.8 1423.1,1065.0 1425.0,1062.5 1429.8,1061.5 1429.8,1047.5 1427.5,1047.2 1423.1,1046.9 1423.1,1039.0 1425.0,1038.5Z"/>
<path fill="#80FF00" d="M1325.0,1136.9 1330.0,1136.9 1330.0,1138.8 1343.1,1141.9 1350.0,1141.9 1353.1,1141.2 1362.5,1140.0 1362.5,1197.5 1335.2,1210.9 1315.0,1210.9 1314.8,1207.2 1310.2,1206.9 1310.0,1203.8 1308.1,1203.5 1308.1,1199.0 1314.8,1198.8 1315.0,1196.9 1308.1,1196.5 1308.1,1191.9 1310.0,1191.5 1310.2,1189.0 1315.0,1188.8 1315.2,1184.4 1318.1,1184.0 1318.1,1173.8 1325.0,1173.5 1324.8,1161.9 1322.8,1161.5 1323.1,1157.2 1337.5,1156.9 1337.8,1153.8 1340.0,1153.5 1340.0,1149.4 1335.0,1149.0 1334.8,1146.9 1323.1,1146.5 1323.1,1142.5 1325.0,1141.9Z"/>
<path fill="#80FF00" d="M1308.1,1187.5 1378.8,1187.5 1377.8,1199.0 1372.8,1206.9 1372.8,1211.5 1370.0,1211.9 1370.0,1218.8 1372.8,1219.0 1373.1,1221.9 1375.0,1222.2 1375.0,1226.5 1373.1,1226.9 1372.8,1229.0 1370.0,1229.4 1370.0,1231.9 1382.8,1232.2 1383.1,1243.8 1385.0,1244.0 1385.0,1261.0 1383.1,1261.2 1382.8,1263.8 1380.0,1263.8 1379.8,1261.2 1368.1,1261.2 1367.8,1263.8 1353.5,1263.8 1353.1,1266.0 1350.2,1266.0 1350.0,1264.0 1348.1,1263.8 1347.8,1261.2 1345.2,1261.0 1345.0,1256.5 1343.1,1256.2 1342.8,1249.0 1340.0,1248.8 1340.0,1239.4 1338.5,1239.0 1338.1,1240.6 1328.5,1241.0 1328.1,1263.8 1325.2,1264.4 1325.0,1266.0 1320.2,1266.2 1320.0,1268.8 1313.1,1269.0 1312.8,1274.0 1310.0,1273.8 1310.0,1265.6 1308.1,1266.0 1307.8,1286.0 1305.0,1286.2 1304.8,1289.0 1300.2,1289.4 1298.1,1291.5 1298.1,1301.0 1300.0,1301.2 1300.0,1311.0 1298.1,1311.2 1297.8,1319.0 1295.0,1319.4 1293.1,1321.2 1293.1,1323.8 1295.0,1324.0 1295.0,1328.8 1297.8,1329.0 1297.8,1331.0 1295.0,1331.2 1295.0,1343.8 1288.1,1343.8 1288.1,1329.0 1290.0,1328.8 1290.0,1326.5 1288.1,1326.2 1288.1,1321.2 1285.2,1321.0 1285.0,1319.0 1275.2,1319.4 1275.0,1341.2 1272.8,1343.8 1270.2,1344.0 1270.0,1348.8 1268.1,1350.6 1265.2,1351.0 1265.0,1349.0 1260.0,1349.0 1260.2,1351.0 1263.1,1351.2 1263.1,1353.5 1265.0,1353.8 1265.0,1358.8 1263.1,1359.0 1260.2,1361.2 1260.0,1363.8 1255.2,1363.8 1255.0,1361.5 1250.2,1361.2 1250.0,1359.0 1248.1,1358.8 1248.1,1351.2 1250.0,1348.8 1252.5,1346.9 1255.0,1344.4 1257.8,1343.8 1258.1,1338.8 1260.2,1336.2 1263.1,1334.0 1265.0,1333.8 1265.0,1321.0 1267.8,1320.6 1268.1,1314.0 1265.0,1313.8 1265.0,1311.2 1272.8,1311.0 1273.1,1314.0 1288.1,1313.8 1288.1,1311.0 1290.0,1310.6 1290.0,1304.0 1288.1,1303.8 1288.1,1294.0 1290.0,1293.8 1290.0,1286.5 1285.2,1286.2 1285.2,1276.5 1288.1,1276.2 1288.1,1271.5 1285.2,1271.2 1285.0,1261.2 1283.1,1259.0 1280.2,1258.8 1280.0,1255.0 1278.1,1251.2 1295.0,1245.0 1308.1,1223.8Z"/>
<path fill="#80FF00" d="M1278.1,1279.0 1280.0,1279.0 1280.2,1281.2 1283.1,1281.5 1283.1,1283.8 1280.0,1284.0 1280.2,1288.8 1283.1,1289.0 1283.1,1291.2 1280.0,1291.5 1280.0,1298.8 1283.1,1299.0 1283.1,1306.2 1280.0,1306.5 1279.8,1308.8 1272.8,1309.0 1272.8,1306.2 1270.0,1306.0 1270.0,1296.0 1272.8,1295.6 1273.1,1284.0 1275.0,1283.8 1275.2,1281.5 1278.1,1281.2Z"/>
<path fill="#A6E64D" d="M1308.1,1236.2 1313.1,1236.0 1313.5,1234.0 1315.0,1234.0 1315.2,1236.2 1318.1,1236.5 1318.1,1240.6 1315.0,1241.0 1314.8,1243.8 1313.1,1244.0 1312.8,1263.8 1310.0,1264.0 1310.0,1265.6 1308.1,1266.0 1308.1,1258.1 1310.0,1257.8 1310.0,1251.2 1312.8,1251.0 1312.8,1245.0 1308.1,1244.8Z"/>
<path fill="#A6E600" d="M1350.0,877.5 1350.0,888.8 1353.1,889.0 1353.1,891.9 1350.0,892.2 1349.8,896.9 1345.0,897.2 1345.0,906.9 1350.0,906.5 1350.2,904.0 1353.1,903.8 1355.0,901.9 1355.2,899.0 1358.1,898.8 1358.5,891.9 1360.0,891.5 1360.2,884.0 1365.0,883.8 1365.2,886.9 1370.0,887.2 1370.2,889.0 1372.8,889.4 1372.8,891.9 1370.0,892.2 1368.1,896.9 1365.0,897.2 1365.0,899.0 1375.0,899.4 1374.8,901.9 1372.8,902.2 1372.5,904.0 1368.1,904.4 1367.8,906.9 1365.0,907.2 1364.8,909.0 1360.0,909.4 1360.0,911.9 1370.0,912.2 1370.2,914.0 1372.8,914.4 1372.8,916.9 1370.0,917.2 1369.8,921.9 1368.1,922.2 1367.8,924.0 1365.0,924.4 1364.8,931.9 1363.1,932.2 1362.8,934.0 1358.5,934.0 1358.1,932.2 1355.0,932.5 1353.1,934.4 1352.8,941.9 1350.0,942.2 1349.8,946.9 1348.1,946.9 1347.8,944.0 1345.0,943.8 1344.8,941.9 1343.1,942.2 1343.1,946.9 1340.0,947.2 1340.0,948.8 1343.1,949.0 1343.1,956.9 1345.0,957.2 1345.2,959.0 1347.8,959.4 1348.1,976.9 1345.0,977.2 1345.0,978.8 1352.8,979.0 1353.1,991.9 1350.0,992.2 1350.0,996.9 1352.8,997.2 1353.1,1006.9 1355.0,1007.2 1355.2,1013.8 1357.8,1014.4 1358.1,1023.8 1359.8,1024.0 1360.0,1031.9 1362.8,1032.2 1362.8,1034.0 1360.0,1034.4 1360.0,1038.8 1362.8,1039.4 1363.1,1041.9 1368.1,1042.2 1368.5,1043.8 1370.0,1043.8 1370.2,1041.9 1372.8,1041.9 1373.1,1046.9 1375.0,1047.5 1380.0,1067.5 1405.0,1080.9 1419.8,1080.9 1420.0,1069.0 1422.5,1068.8 1422.5,1062.5 1429.8,1061.9 1429.8,1054.8 1427.8,1054.4 1427.5,1047.2 1422.5,1046.9 1422.5,1039.4 1424.8,1038.8 1425.0,999.4 1428.1,996.9 1432.8,996.2 1432.5,979.4 1428.1,976.9 1428.1,974.4 1423.1,971.9 1422.5,968.8 1417.5,966.9 1410.0,968.8 1407.5,964.0 1403.8,964.0 1403.1,966.2 1393.1,966.2 1393.1,947.5 1395.0,946.9 1395.0,944.0 1393.1,943.8 1393.1,931.9 1390.0,931.2 1390.0,929.4 1393.1,926.9 1395.0,921.9 1403.1,921.9 1403.1,914.0 1400.2,913.8 1400.2,909.4 1397.8,906.9 1393.5,906.9 1390.2,909.0 1388.1,906.9 1388.1,902.5 1390.0,899.4 1398.1,891.9 1398.1,877.5Z"/>
<path fill="#A6E600" d="M1355.0,1007.5 1355.0,1013.8 1357.8,1014.0 1358.1,1023.8 1360.0,1024.0 1360.2,1031.9 1362.8,1032.2 1363.1,1033.8 1360.0,1034.0 1360.0,1039.0 1362.8,1039.4 1363.1,1041.9 1367.8,1042.2 1368.1,1043.8 1370.0,1043.8 1370.2,1041.9 1372.8,1041.9 1373.1,1047.5 1375.0,1072.5 1403.1,1081.9 1413.1,1082.2 1413.5,1083.8 1420.0,1083.8 1420.0,1072.5 1423.1,1068.8 1423.1,1065.0 1425.0,1062.5 1429.8,1061.5 1429.8,1047.5 1427.5,1047.2 1423.1,1046.9 1423.1,1039.0 1425.0,1038.5 1425.0,1007.5Z"/>
<path fill="#80FF00" d="M1388.1,949.4 1390.0,949.0 1390.2,947.2 1397.8,946.9 1398.1,949.0 1402.8,949.4 1403.1,951.9 1405.0,953.8 1410.0,954.0 1410.0,967.5 1403.1,966.2 1393.1,966.2 1392.8,964.0 1388.1,963.8Z"/>
<path fill="#F2CCA6" d="M1358.1,1136.9 1362.8,1136.9 1363.1,1138.8 1364.8,1139.0 1365.0,1141.5 1367.8,1141.9 1368.1,1148.8 1377.8,1148.8 1378.1,1151.9 1379.8,1151.9 1380.0,1158.5 1378.1,1158.8 1377.8,1161.2 1375.2,1161.5 1375.0,1163.8 1373.1,1164.0 1372.8,1169.0 1370.2,1169.4 1370.0,1171.5 1368.1,1171.9 1367.8,1173.8 1365.2,1174.0 1365.0,1176.5 1363.1,1176.9 1363.1,1182.5 1360.0,1184.4 1359.8,1186.9 1355.2,1187.2 1355.0,1188.8 1357.8,1189.0 1358.1,1191.9 1359.8,1191.5 1360.0,1189.0 1363.1,1187.2 1367.8,1186.9 1368.1,1191.5 1369.8,1191.9 1370.0,1193.5 1367.8,1193.8 1367.8,1196.5 1370.0,1196.9 1370.2,1198.8 1377.8,1198.8 1378.1,1182.2 1380.0,1181.9 1380.2,1179.0 1389.8,1178.8 1390.0,1176.9 1392.5,1176.5 1392.8,1174.0 1394.8,1173.8 1395.0,1164.0 1398.1,1163.8 1398.5,1161.9 1405.0,1161.9 1405.0,1164.4 1403.1,1164.8 1403.1,1166.9 1405.0,1167.2 1405.0,1169.0 1402.8,1169.4 1402.8,1176.5 1400.0,1176.9 1399.8,1174.0 1395.6,1174.0 1395.2,1178.8 1397.8,1179.0 1397.8,1181.5 1395.6,1181.9 1395.0,1184.4 1392.8,1184.8 1392.5,1187.2 1387.8,1187.2 1387.5,1189.0 1385.2,1189.4 1385.2,1191.9 1387.5,1192.2 1387.5,1193.8 1385.2,1194.0 1387.5,1196.2 1389.8,1196.5 1390.0,1198.8 1392.8,1199.0 1393.1,1203.8 1395.0,1204.0 1395.0,1206.9 1393.1,1207.2 1393.1,1212.5 1373.1,1212.5 1372.8,1207.2 1365.0,1206.9 1364.8,1204.4 1358.1,1204.0 1357.8,1201.9 1355.2,1201.5 1355.0,1194.0 1353.1,1193.8 1352.8,1196.5 1348.1,1196.9 1347.8,1198.8 1345.0,1199.0 1344.8,1201.5 1342.8,1201.9 1340.0,1204.4 1340.0,1208.8 1342.8,1209.4 1343.1,1212.5 1338.1,1212.5 1338.1,1208.8 1335.2,1208.8 1335.0,1202.2 1333.5,1201.9 1333.1,1198.8 1328.1,1199.0 1327.8,1201.5 1323.1,1201.9 1322.8,1199.0 1320.0,1198.8 1320.0,1197.2 1322.8,1196.9 1325.0,1194.0 1327.8,1193.8 1328.1,1182.2 1332.8,1181.9 1333.1,1178.8 1335.2,1176.9 1337.8,1176.5 1338.1,1173.8 1340.0,1171.9 1344.8,1171.2 1345.0,1166.9 1347.8,1164.0 1349.8,1163.8 1350.0,1157.2 1352.8,1156.9 1353.1,1154.0 1355.2,1153.8 1355.0,1149.0 1353.1,1148.8 1352.8,1146.9 1350.0,1146.5 1350.0,1144.4 1355.0,1141.9 1355.2,1139.0 1357.8,1138.8Z"/>
<path fill="#F2CCA6" d="M1288.1,1187.5 1285.0,1191.9 1280.0,1194.4 1279.8,1199.0 1277.5,1199.4 1275.2,1201.9 1275.0,1204.0 1272.8,1204.4 1272.5,1208.8 1270.0,1209.0 1269.8,1213.8 1268.1,1214.0 1267.8,1226.9 1265.0,1227.2 1263.1,1229.4 1263.1,1231.9 1265.0,1232.2 1265.2,1235.6 1267.8,1236.0 1268.1,1240.6 1270.0,1241.0 1270.0,1248.8 1268.1,1249.0 1267.8,1243.8 1265.0,1243.8 1264.8,1241.0 1260.2,1241.0 1260.0,1248.8 1263.1,1249.0 1263.5,1251.0 1267.8,1251.2 1268.1,1255.6 1275.0,1255.6 1275.2,1254.0 1278.1,1253.8 1278.1,1251.2 1290.0,1251.0 1290.2,1249.0 1293.1,1248.5 1293.1,1246.0 1295.0,1245.6 1295.0,1232.2 1300.0,1231.9 1300.2,1229.0 1307.8,1228.8 1308.1,1223.8 1310.0,1223.5 1310.2,1221.9 1312.8,1221.5 1313.1,1219.0 1315.0,1218.8 1315.2,1216.9 1317.8,1216.5 1317.8,1214.0 1315.0,1213.8 1314.8,1206.9 1310.0,1206.5 1309.8,1204.0 1308.1,1203.8 1308.1,1187.5Z"/>
<path fill="#F2CCA6" d="M1328.1,1187.5 1328.1,1194.0 1323.1,1194.4 1322.8,1196.9 1320.0,1197.2 1320.0,1199.0 1322.8,1199.4 1323.1,1201.9 1327.8,1201.9 1328.1,1199.4 1332.5,1199.4 1332.8,1201.9 1334.8,1201.9 1335.0,1197.2 1340.0,1197.2 1340.0,1199.0 1338.1,1199.4 1337.8,1201.9 1335.0,1201.9 1335.2,1208.5 1337.5,1208.8 1337.8,1211.5 1339.8,1211.9 1340.0,1213.8 1342.8,1213.8 1342.8,1209.0 1340.0,1208.8 1340.0,1204.0 1342.8,1203.8 1343.1,1201.9 1345.2,1199.4 1347.5,1199.0 1347.8,1197.2 1352.8,1196.9 1353.1,1194.4 1354.8,1194.4 1355.0,1201.5 1357.8,1201.9 1358.1,1203.8 1364.8,1204.0 1365.0,1206.5 1372.8,1206.9 1372.8,1211.5 1370.0,1211.9 1370.0,1218.8 1372.8,1219.0 1373.1,1221.9 1375.0,1222.2 1375.0,1226.5 1373.1,1226.9 1372.8,1229.0 1370.0,1229.4 1370.0,1231.9 1382.8,1232.2 1383.1,1243.8 1385.0,1244.0 1385.0,1261.0 1387.8,1260.6 1388.1,1258.8 1390.0,1258.5 1390.2,1256.2 1392.8,1256.0 1395.0,1253.8 1395.2,1249.0 1397.8,1248.8 1398.1,1244.0 1400.0,1243.8 1400.2,1239.4 1402.5,1239.0 1403.1,1236.0 1417.8,1235.6 1418.1,1233.8 1420.0,1233.5 1420.2,1231.5 1423.1,1231.2 1423.5,1229.0 1425.0,1229.0 1425.2,1231.9 1427.5,1231.5 1427.8,1229.0 1430.0,1228.8 1430.2,1226.9 1432.8,1226.5 1433.1,1224.4 1437.8,1224.0 1438.1,1221.9 1445.0,1221.5 1445.0,1209.0 1442.2,1209.0 1441.9,1206.9 1437.8,1206.9 1438.1,1208.8 1441.5,1211.9 1430.2,1212.2 1430.0,1213.8 1415.0,1213.8 1414.8,1211.9 1412.8,1211.5 1412.5,1209.0 1407.8,1208.8 1407.5,1206.9 1403.1,1206.9 1402.8,1211.5 1400.0,1211.9 1400.2,1223.8 1402.8,1224.0 1402.8,1226.9 1400.0,1227.2 1399.8,1228.8 1398.1,1228.8 1397.8,1226.9 1395.0,1226.5 1395.0,1222.2 1397.8,1221.9 1398.1,1212.2 1395.0,1211.9 1395.0,1214.0 1393.1,1213.8 1393.1,1206.9 1395.0,1206.5 1395.0,1204.0 1393.1,1203.8 1392.8,1199.4 1388.1,1199.0 1388.1,1196.9 1390.0,1196.5 1390.0,1194.4 1385.2,1194.0 1385.0,1191.9 1388.1,1191.5 1388.1,1187.5 1377.8,1187.5 1377.8,1199.0 1370.2,1199.0 1370.0,1197.2 1368.1,1196.9 1368.1,1187.5Z"/>
<path fill="#4DE600" d="M1345.0,1032.2 1347.8,1032.2 1347.8,1036.9 1345.6,1037.2 1345.6,1039.0 1347.8,1039.4 1348.1,1046.9 1350.0,1047.2 1350.2,1053.8 1352.8,1054.0 1353.1,1056.9 1355.0,1057.2 1355.2,1061.9 1357.8,1062.2 1358.1,1063.8 1359.8,1063.8 1360.0,1054.0 1363.1,1053.8 1363.5,1051.9 1365.0,1051.5 1365.2,1049.0 1367.8,1049.0 1368.1,1051.9 1372.8,1051.9 1373.1,1047.2 1375.0,1046.9 1375.2,1044.0 1377.8,1043.8 1380.0,1041.9 1380.2,1039.4 1382.8,1039.0 1383.1,1024.4 1385.0,1024.0 1385.2,1022.2 1390.0,1021.9 1390.2,1019.0 1394.8,1019.0 1395.0,1024.0 1397.8,1024.4 1397.8,1026.9 1393.1,1027.2 1392.8,1031.9 1388.1,1032.2 1387.8,1036.9 1385.0,1037.2 1385.0,1041.9 1387.8,1042.2 1387.8,1043.8 1385.2,1044.0 1385.2,1051.9 1392.8,1051.9 1393.1,1049.0 1395.0,1048.8 1395.2,1046.9 1398.1,1046.5 1398.5,1044.0 1399.8,1044.0 1400.0,1046.9 1402.8,1046.9 1403.1,1044.0 1410.0,1043.8 1410.2,1041.9 1415.0,1041.5 1415.2,1039.0 1417.8,1039.0 1417.8,1043.8 1413.1,1044.4 1412.8,1046.9 1408.1,1047.2 1408.1,1049.0 1410.0,1049.4 1410.2,1051.9 1412.5,1052.2 1412.5,1053.8 1405.6,1054.0 1405.2,1051.9 1403.1,1052.2 1402.8,1056.9 1400.0,1057.2 1399.8,1054.0 1398.1,1054.4 1397.8,1058.8 1395.0,1059.4 1394.8,1061.5 1390.0,1061.9 1389.8,1064.0 1387.8,1064.4 1387.8,1068.8 1390.0,1069.0 1390.2,1071.9 1392.8,1072.2 1393.1,1076.9 1394.8,1076.9 1395.0,1074.4 1397.8,1073.8 1398.1,1069.0 1407.8,1069.0 1408.1,1076.9 1405.0,1077.2 1403.1,1079.4 1395.0,1079.4 1394.8,1081.9 1392.8,1082.2 1392.5,1088.8 1390.0,1089.0 1389.8,1091.9 1387.8,1091.9 1387.8,1079.0 1383.1,1079.0 1382.8,1083.8 1375.0,1084.0 1374.8,1086.9 1373.1,1087.2 1373.1,1088.8 1375.0,1089.0 1375.2,1091.9 1377.8,1092.2 1378.1,1093.8 1380.0,1094.0 1380.2,1096.9 1383.1,1097.2 1383.5,1098.8 1387.5,1099.0 1387.8,1101.9 1389.8,1102.2 1389.8,1106.9 1387.8,1107.2 1387.8,1121.9 1385.0,1122.2 1385.0,1124.0 1387.8,1124.4 1387.5,1126.5 1385.0,1126.9 1383.1,1128.8 1382.8,1138.5 1380.0,1139.0 1379.8,1151.9 1378.1,1151.9 1377.8,1148.8 1368.1,1148.8 1367.8,1141.9 1365.0,1141.5 1364.8,1139.0 1363.1,1138.8 1362.8,1136.9 1358.1,1136.9 1357.8,1138.8 1355.2,1139.0 1353.1,1141.2 1350.0,1141.9 1343.1,1141.9 1342.8,1139.4 1340.0,1139.0 1339.8,1136.9 1335.2,1136.9 1335.0,1138.8 1330.0,1138.8 1329.8,1131.9 1327.8,1131.5 1327.8,1129.4 1330.0,1129.0 1330.2,1126.9 1332.8,1126.5 1333.1,1124.0 1339.8,1123.8 1340.0,1121.9 1344.8,1121.5 1345.0,1119.0 1347.8,1118.8 1348.1,1111.9 1350.0,1111.5 1350.2,1104.0 1355.0,1103.8 1355.2,1091.9 1357.8,1091.5 1357.8,1076.9 1348.1,1076.5 1347.8,1074.0 1343.1,1073.8 1342.8,1069.0 1340.0,1068.8 1339.8,1056.9 1338.1,1056.5 1337.8,1052.2 1335.0,1051.9 1335.0,1042.2 1342.8,1041.9 1343.1,1037.2 1345.0,1036.9Z"/>
<path fill="#80FF00" d="M1390.0,1119.0 1395.0,1118.8 1395.2,1116.9 1399.8,1117.2 1400.0,1119.0 1405.0,1119.4 1405.0,1121.9 1398.1,1121.9 1397.8,1120.0 1395.0,1120.2 1394.8,1121.9 1390.0,1121.9Z"/>
<path fill="#FFCC4D" d="M1410.0,897.2 1417.5,896.9 1417.8,901.9 1419.8,901.5 1420.0,892.2 1422.8,892.2 1423.1,894.4 1425.0,894.8 1425.2,896.9 1427.8,897.2 1428.1,899.4 1430.0,899.8 1430.2,901.9 1432.8,902.2 1433.1,903.8 1440.0,903.8 1440.2,899.4 1441.9,899.4 1442.2,901.9 1446.9,902.2 1447.2,904.0 1452.2,904.4 1452.5,906.9 1455.0,907.2 1455.2,908.8 1459.8,909.0 1460.0,904.4 1461.9,904.4 1462.2,906.9 1464.8,906.9 1465.0,904.4 1467.5,903.8 1467.8,901.9 1470.0,901.5 1470.0,899.4 1467.2,899.0 1466.9,886.9 1470.0,886.5 1470.0,877.5 1476.9,877.5 1477.2,881.9 1486.9,881.9 1487.2,877.5 1500.0,877.5 1499.8,886.9 1497.5,887.2 1497.2,894.0 1495.0,894.4 1495.0,896.9 1497.2,897.2 1497.2,901.9 1500.0,902.2 1500.0,904.0 1497.2,904.4 1496.9,906.9 1495.0,906.9 1494.8,909.0 1486.9,909.4 1486.5,911.9 1482.5,912.2 1482.2,914.0 1477.5,914.4 1477.2,916.9 1480.0,917.2 1480.2,921.9 1485.0,922.2 1485.2,926.9 1486.9,927.2 1487.2,929.0 1490.0,929.4 1490.2,934.0 1496.9,934.0 1496.9,939.0 1495.0,939.4 1494.8,943.8 1492.5,944.0 1492.2,946.9 1490.0,947.2 1489.8,956.9 1487.2,957.2 1486.9,961.9 1485.0,962.2 1484.8,964.0 1482.2,964.4 1480.0,966.9 1479.8,969.0 1477.2,969.0 1477.2,956.9 1480.0,956.5 1480.2,951.9 1482.2,951.5 1482.5,944.0 1485.0,943.8 1485.0,942.2 1475.0,941.9 1474.8,939.4 1472.5,939.0 1471.9,936.9 1467.5,937.2 1467.2,941.9 1465.0,942.2 1464.8,936.9 1462.5,936.5 1462.2,931.9 1465.0,931.5 1465.0,927.2 1462.2,926.9 1461.9,921.9 1460.0,921.5 1459.8,914.0 1457.5,913.8 1455.0,916.9 1455.0,923.8 1456.9,924.0 1457.2,938.8 1455.0,939.4 1455.0,946.9 1456.9,947.2 1456.9,948.8 1455.0,949.0 1454.8,951.9 1452.5,952.2 1450.0,954.0 1449.8,956.9 1447.5,957.2 1445.0,959.0 1442.5,959.4 1442.2,963.8 1435.2,964.0 1435.0,961.9 1433.1,961.5 1432.8,957.2 1428.1,957.2 1427.8,961.9 1417.8,961.9 1417.5,959.0 1415.0,959.0 1414.8,961.9 1408.1,961.9 1408.1,959.4 1410.0,959.0 1410.0,954.0 1405.0,953.8 1403.1,951.9 1402.8,949.4 1398.1,949.0 1397.8,946.9 1395.0,946.9 1395.0,944.0 1393.1,943.8 1393.1,931.9 1390.0,931.2 1390.0,929.4 1393.1,929.0 1393.5,926.9 1397.8,927.2 1398.1,929.4 1400.0,929.8 1400.2,933.8 1403.1,934.0 1405.0,936.9 1407.5,937.2 1407.8,939.4 1410.0,939.8 1410.2,946.9 1412.8,946.9 1413.1,944.0 1415.0,943.8 1415.2,938.8 1412.8,938.5 1412.8,936.9 1415.0,936.5 1415.2,934.0 1417.5,933.8 1420.0,931.9 1420.0,927.2 1417.5,926.9 1415.2,924.4 1413.1,924.0 1412.8,921.9 1410.0,921.5 1410.0,917.2 1415.0,916.9 1415.2,919.0 1417.8,918.8 1417.8,914.4 1413.1,914.0 1412.8,906.9 1410.0,906.9Z"/>
<path fill="#FFCC4D" d="M1470.0,877.2 1471.9,876.9 1472.2,878.8 1476.9,879.0 1477.2,881.9 1486.9,881.9 1487.5,879.0 1490.0,878.8 1490.0,874.0 1487.2,873.8 1487.2,871.9 1490.0,871.5 1490.0,869.4 1495.0,869.0 1495.2,866.9 1496.9,866.9 1497.2,868.8 1500.0,869.0 1500.2,871.9 1501.9,872.2 1501.9,878.8 1500.0,879.4 1500.0,883.1 1470.0,883.1Z"/>
<path fill="#F2CCA6" d="M1311.2,1166.9 1313.1,1167.2 1315.0,1169.4 1315.2,1171.5 1319.8,1171.9 1319.8,1173.8 1318.1,1174.0 1318.1,1184.0 1315.2,1184.4 1315.0,1188.8 1310.2,1189.0 1310.0,1191.5 1308.1,1191.9 1308.1,1196.5 1315.0,1196.9 1314.8,1198.8 1308.1,1199.0 1308.1,1203.5 1310.0,1203.8 1310.2,1206.9 1314.8,1207.2 1315.0,1212.5 1270.0,1212.5 1270.2,1208.8 1273.1,1208.5 1273.5,1204.4 1277.8,1204.0 1278.1,1199.4 1280.0,1199.0 1280.2,1194.4 1282.8,1194.0 1285.0,1191.9 1287.5,1191.5 1287.8,1187.5 1290.0,1186.9 1290.2,1184.4 1293.1,1184.0 1295.0,1179.4 1297.8,1178.8 1300.0,1176.9 1302.8,1176.5 1303.1,1174.0 1305.0,1171.9 1308.1,1171.5 1308.5,1169.4 1310.0,1169.0Z"/>
<path fill="#BFFFB3" d="M1010.0,1369.5 1015.0,1370.0 1022.5,1373.8 1020.0,1378.8 1016.2,1383.8 1025.0,1386.2 1030.0,1388.8 1036.2,1390.0 1042.5,1395.0 1047.5,1401.2 1052.5,1406.2 1055.0,1412.5 1062.5,1410.0 1070.0,1412.5 1075.0,1416.2 1081.2,1420.0 1090.0,1422.5 1096.2,1420.0 1102.5,1423.8 1110.0,1426.2 1111.2,1438.8 1107.5,1437.5 1102.5,1436.2 1100.0,1428.8 1095.0,1425.0 1090.0,1426.2 1085.0,1422.5 1080.0,1420.0 1076.2,1421.2 1072.5,1416.2 1071.2,1430.0 1068.8,1435.0 1067.5,1442.5 1070.0,1447.5 1075.0,1452.5 1080.0,1462.5 1075.0,1462.5 1072.5,1456.2 1067.5,1453.8 1065.0,1457.5 1062.0,1460.0 1060.0,1455.0 1055.0,1453.8 1051.2,1455.0 1050.0,1448.8 1045.0,1450.0 1025.0,1450.0 1012.5,1446.2 1005.0,1443.8 997.5,1440.0 990.0,1440.0 990.0,1369.5Z"/>
<path fill="#CCE64D" d="M997.5,1440.0 1005.0,1443.8 1012.5,1446.2 1025.0,1450.0 1045.0,1450.0 1050.0,1448.8 1051.2,1455.0 1047.5,1465.0 1046.2,1475.0 1042.5,1482.5 1041.2,1490.0 1045.0,1492.5 1045.0,1503.8 1043.8,1510.0 1040.0,1512.5 1035.0,1512.5 1030.0,1510.0 1026.2,1510.0 1026.2,1513.8 1032.5,1516.2 1040.0,1518.8 1047.5,1516.2 1050.0,1521.2 1042.5,1525.0 1032.5,1525.0 1025.0,1530.0 1018.8,1528.8 1017.5,1522.5 1022.5,1518.8 1020.0,1511.2 1012.5,1507.5 1005.0,1502.5 1000.0,1502.5 993.8,1503.8 995.0,1500.0 1002.5,1497.5 1003.0,1487.5 1000.0,1480.0 995.0,1476.2 985.0,1476.2 975.0,1476.2 975.0,1465.0 990.0,1440.0Z"/>
<path fill="#CCE64D" d="M1138.1,1478.8 1141.2,1478.8 1141.2,1483.1 1145.0,1483.8 1150.0,1488.8 1155.0,1493.8 1162.5,1495.0 1165.0,1498.8 1168.1,1499.4 1170.0,1506.2 1172.5,1510.0 1172.5,1515.6 1170.0,1516.2 1169.4,1533.8 1167.5,1534.4 1165.0,1543.8 1165.0,1550.6 1162.5,1556.2 1161.2,1561.2 1155.0,1561.9 1149.4,1565.0 1145.0,1565.6 1144.4,1563.1 1140.6,1560.6 1140.0,1557.5 1135.6,1556.2 1132.5,1553.8 1130.6,1550.0 1130.0,1545.0 1127.5,1543.8 1127.5,1537.5 1125.6,1533.8 1125.0,1528.8 1120.0,1527.5 1116.2,1522.5 1117.5,1518.1 1118.1,1506.2 1125.0,1505.6 1126.2,1503.8 1141.2,1503.1 1145.0,1500.0 1145.0,1496.2 1142.5,1495.0 1138.8,1493.8 1138.1,1487.5 1140.6,1485.6 1138.1,1483.1Z"/>
<path fill="#CCE64D" d="M1308.8,1531.2 1311.2,1525.0 1312.5,1521.2 1313.8,1516.2 1320.0,1512.5 1322.5,1507.5 1327.5,1505.0 1335.0,1507.5 1342.5,1510.0 1347.5,1508.8 1355.0,1505.0 1362.5,1503.8 1370.0,1501.2 1375.0,1502.5 1382.5,1505.0 1388.8,1502.5 1395.0,1507.5 1402.5,1512.5 1410.0,1513.8 1420.0,1512.5 1425.0,1507.5 1425.0,1495.0 1430.0,1485.0 1435.0,1480.0 1437.5,1476.2 1447.5,1476.2 1452.5,1473.8 1460.0,1468.8 1467.5,1465.0 1475.0,1462.5 1482.5,1462.5 1486.2,1468.8 1500.0,1470.0 1437.5,1577.5 1400.0,1565.0 1350.0,1540.0 1310.0,1540.0Z"/>
<path fill="#CCE64D" d="M1108.1,1187.5 1121.2,1189.4 1122.5,1191.9 1123.1,1197.5 1125.6,1198.8 1122.5,1199.4 1122.5,1211.9 1120.6,1212.5 1120.2,1216.9 1117.8,1217.5 1115.6,1221.9 1115.2,1226.2 1111.2,1226.5 1111.0,1223.8 1103.1,1223.8 1102.8,1217.5 1098.1,1216.9 1098.1,1213.8 1100.6,1213.1 1102.5,1209.4 1098.1,1209.0 1096.2,1204.4 1098.1,1200.0 1100.6,1197.5 1103.1,1194.4 1105.6,1190.0Z"/>
<path fill="#CCE64D" d="M1073.1,1241.2 1076.2,1236.9 1078.1,1232.5 1081.2,1227.5 1083.1,1224.4 1086.2,1219.4 1090.6,1221.2 1092.5,1223.8 1095.6,1226.2 1097.5,1228.8 1100.6,1231.2 1103.1,1233.8 1108.1,1234.4 1110.6,1236.9 1113.1,1239.4 1115.6,1241.2 1117.8,1245.6 1127.5,1246.0 1128.1,1244.0 1130.6,1244.0 1130.6,1248.1 1128.1,1248.8 1127.8,1258.8 1126.2,1259.0 1126.2,1261.2 1127.8,1261.5 1128.1,1268.8 1130.6,1269.4 1132.5,1271.2 1132.8,1275.6 1135.6,1276.2 1137.5,1279.4 1135.6,1281.2 1135.0,1283.8 1132.5,1284.4 1130.6,1286.9 1130.6,1290.6 1128.1,1290.6 1127.8,1286.2 1125.6,1278.8 1118.1,1278.8 1117.5,1276.2 1108.1,1276.0 1107.5,1274.4 1103.1,1274.4 1102.8,1278.8 1101.2,1279.4 1101.0,1283.8 1096.2,1284.0 1095.6,1281.2 1088.1,1283.8 1087.8,1281.2 1078.1,1280.6 1077.5,1276.2 1075.6,1275.6 1075.0,1271.2 1073.1,1270.6 1072.5,1266.9 1071.0,1266.2 1071.0,1260.0 1073.1,1259.4 1070.6,1255.6 1071.0,1246.2Z"/>
<path fill="#CCE64D" d="M1145.0,1177.5 1158.8,1182.5 1160.0,1186.2 1165.0,1189.4 1172.5,1191.9 1178.1,1193.8 1178.8,1196.9 1185.0,1196.2 1185.6,1191.9 1188.8,1186.9 1190.0,1177.5Z"/>
<path fill="#CCE64D" d="M1198.1,1177.5 1198.1,1211.2 1210.0,1213.8 1230.0,1211.2 1230.6,1206.9 1238.8,1202.5 1247.0,1198.8 1250.0,1198.8 1250.0,1177.5Z"/>
<path fill="#FFCC4D" d="M1198.1,1236.2 1200.0,1238.8 1205.0,1239.0 1205.6,1236.2 1212.5,1236.2 1213.1,1238.8 1215.6,1239.0 1217.5,1241.2 1222.5,1241.9 1223.1,1245.0 1230.0,1244.8 1230.6,1244.0 1240.0,1244.0 1240.2,1251.0 1243.1,1251.2 1243.5,1258.8 1247.0,1259.0 1247.0,1266.2 1240.0,1266.0 1239.8,1263.8 1235.0,1263.5 1234.8,1261.2 1232.5,1261.5 1232.2,1263.8 1227.5,1264.0 1225.0,1261.2 1224.8,1269.0 1218.1,1269.4 1217.8,1271.2 1215.0,1271.5 1215.0,1281.0 1224.8,1281.2 1225.0,1283.8 1227.8,1284.0 1227.5,1286.0 1223.1,1286.2 1222.5,1283.8 1220.0,1284.0 1219.8,1291.2 1218.1,1291.5 1217.8,1296.2 1213.1,1296.5 1212.8,1303.1 1215.0,1303.5 1214.8,1305.0 1210.0,1305.2 1208.1,1308.1 1208.1,1310.6 1205.6,1311.0 1205.2,1313.8 1202.5,1314.0 1198.1,1316.2 1197.8,1321.0 1200.0,1321.2 1200.6,1318.8 1222.5,1319.0 1222.2,1321.0 1220.0,1321.2 1217.5,1323.8 1215.0,1325.6 1210.0,1326.0 1209.8,1323.8 1205.0,1321.5 1202.5,1323.5 1200.0,1326.0 1195.0,1326.5 1194.8,1328.8 1190.0,1331.2 1185.0,1331.5 1184.8,1336.2 1182.8,1336.5 1182.5,1343.8 1175.0,1344.0 1174.8,1347.5 1170.0,1348.1 1168.8,1346.2 1167.5,1348.5 1165.0,1348.8 1164.8,1355.0 1158.1,1355.6 1158.1,1357.5 1162.5,1360.0 1165.0,1360.6 1167.5,1363.8 1170.0,1366.2 1172.5,1368.8 1175.0,1373.8 1175.0,1380.9 1165.0,1380.9 1162.5,1378.8 1160.0,1376.2 1158.1,1373.1 1155.0,1370.6 1152.5,1366.2 1150.0,1363.8 1145.0,1364.0 1144.8,1375.0 1147.5,1375.6 1148.1,1380.9 1126.2,1380.9 1126.9,1375.0 1128.1,1365.0 1130.6,1362.5 1132.5,1360.0 1137.5,1359.4 1143.1,1358.8 1143.5,1354.4 1145.0,1354.0 1144.8,1343.8 1147.5,1343.1 1147.8,1326.2 1145.0,1326.0 1145.0,1321.2 1143.1,1321.0 1142.8,1306.2 1150.0,1306.0 1150.6,1303.8 1153.1,1304.0 1153.5,1309.4 1155.2,1310.0 1155.0,1314.0 1153.1,1314.4 1153.1,1318.8 1155.0,1319.0 1155.2,1323.8 1160.0,1323.5 1160.2,1321.2 1162.5,1318.8 1163.1,1315.6 1165.0,1315.2 1164.8,1313.5 1162.5,1312.5 1165.0,1310.0 1165.0,1306.2 1162.5,1305.6 1160.0,1303.8 1157.5,1301.2 1155.0,1300.6 1153.1,1298.8 1153.1,1289.4 1155.0,1288.8 1155.2,1276.2 1157.5,1276.0 1160.0,1273.8 1160.0,1271.9 1165.0,1269.4 1165.0,1264.4 1167.5,1263.8 1168.1,1259.0 1171.2,1258.5 1171.9,1256.2 1175.0,1256.0 1177.5,1253.8 1182.5,1253.5 1185.0,1251.2 1187.5,1248.8 1190.0,1246.2 1192.5,1244.0 1198.1,1241.2Z"/>
<path fill="#FFCC4D" d="M1170.0,1251.2 1173.1,1251.5 1173.5,1254.4 1177.8,1254.4 1178.1,1251.9 1185.0,1250.0 1185.0,1247.5 1242.5,1247.5 1242.8,1258.8 1245.0,1259.0 1244.8,1265.6 1240.0,1266.0 1239.8,1263.5 1235.0,1263.1 1234.8,1261.0 1232.8,1261.2 1232.5,1263.5 1228.1,1263.8 1227.8,1261.0 1225.0,1261.2 1224.8,1268.8 1218.1,1269.0 1217.8,1271.0 1215.0,1271.2 1215.0,1281.0 1220.0,1281.2 1220.0,1325.0 1187.5,1350.0 1175.0,1386.2 1150.0,1386.2 1145.0,1383.8 1143.1,1385.6 1138.1,1386.0 1137.8,1384.0 1136.2,1385.6 1133.1,1386.0 1132.8,1388.8 1131.2,1388.5 1131.0,1384.0 1128.5,1383.8 1128.1,1379.0 1126.0,1378.8 1126.0,1374.0 1127.8,1373.8 1128.1,1364.0 1131.0,1361.2 1133.1,1359.0 1143.1,1356.2 1143.1,1344.0 1144.8,1343.8 1145.0,1339.0 1147.8,1338.8 1148.1,1331.2 1145.0,1331.0 1145.0,1326.0 1148.1,1325.6 1147.8,1321.2 1143.1,1321.0 1143.1,1306.2 1149.8,1306.0 1150.0,1303.8 1152.8,1304.0 1152.8,1308.5 1155.0,1308.8 1155.2,1313.5 1158.1,1313.8 1157.8,1316.0 1153.1,1316.2 1153.1,1318.5 1155.0,1318.8 1155.2,1323.8 1159.8,1323.8 1160.0,1321.0 1162.8,1320.6 1163.1,1316.0 1165.0,1315.6 1165.0,1311.2 1163.1,1311.0 1165.0,1308.8 1165.0,1306.2 1163.1,1304.0 1160.2,1303.8 1160.0,1301.2 1155.2,1301.0 1155.0,1299.0 1153.1,1298.8 1153.1,1289.0 1155.0,1288.8 1155.0,1274.4 1159.8,1273.8 1160.0,1271.2 1165.0,1268.8 1165.0,1263.8 1168.1,1258.8Z"/>
<path fill="#FFCC4D" d="M1373.1,1309.4 1377.5,1309.8 1378.1,1315.6 1382.8,1316.0 1383.1,1319.0 1387.8,1320.6 1388.1,1328.5 1392.5,1328.8 1393.1,1326.2 1397.8,1325.6 1400.2,1321.2 1408.1,1321.0 1408.1,1319.0 1417.8,1319.0 1418.1,1321.0 1422.8,1321.0 1423.1,1319.0 1429.8,1319.0 1430.0,1323.8 1432.8,1323.8 1433.1,1321.2 1434.8,1321.2 1435.0,1323.8 1437.8,1323.8 1438.1,1321.2 1441.9,1321.0 1442.2,1319.0 1445.0,1319.0 1446.9,1321.2 1447.2,1326.0 1469.8,1326.2 1470.0,1329.0 1471.9,1330.6 1476.9,1331.0 1477.2,1333.8 1481.9,1334.0 1482.2,1338.8 1484.4,1339.4 1485.0,1345.6 1486.9,1346.0 1486.9,1358.8 1489.8,1359.0 1489.8,1386.2 1491.5,1386.5 1491.5,1388.8 1489.8,1389.0 1489.8,1418.8 1486.9,1419.0 1486.9,1426.0 1466.9,1426.2 1466.9,1435.6 1464.8,1436.0 1464.4,1438.8 1461.9,1439.0 1461.5,1440.6 1457.5,1440.6 1456.9,1438.8 1452.2,1438.5 1451.9,1436.0 1445.0,1435.6 1444.8,1433.8 1438.1,1433.5 1437.8,1431.2 1435.0,1431.0 1434.8,1428.8 1430.0,1428.5 1430.0,1421.2 1432.8,1421.0 1432.8,1416.2 1428.1,1416.0 1427.8,1413.8 1425.0,1413.5 1424.8,1411.0 1423.1,1411.2 1422.8,1413.8 1418.1,1414.0 1417.8,1418.8 1413.1,1418.8 1413.1,1416.0 1415.0,1415.6 1415.2,1414.0 1417.8,1413.8 1418.1,1406.2 1420.0,1405.6 1420.2,1401.0 1422.8,1400.6 1422.8,1396.2 1418.1,1396.2 1417.8,1403.8 1415.0,1404.0 1414.8,1408.5 1410.0,1408.8 1409.8,1413.8 1405.0,1414.0 1405.0,1409.0 1407.8,1408.8 1408.1,1401.0 1405.0,1400.6 1404.8,1396.2 1403.1,1396.0 1402.8,1393.8 1390.0,1393.5 1390.0,1391.5 1392.8,1391.0 1393.1,1388.8 1395.0,1388.5 1395.2,1384.0 1399.8,1384.0 1400.0,1386.2 1402.8,1386.5 1403.1,1388.8 1407.8,1388.8 1408.1,1384.0 1414.8,1383.8 1415.0,1381.2 1417.8,1381.0 1418.1,1379.4 1415.0,1379.0 1414.8,1376.2 1410.0,1376.0 1409.8,1373.8 1408.1,1373.5 1408.1,1371.2 1412.8,1371.0 1413.1,1369.0 1417.8,1369.0 1418.1,1371.2 1420.0,1371.5 1420.2,1373.8 1425.0,1374.0 1425.0,1378.8 1423.1,1379.0 1422.8,1391.0 1425.0,1390.6 1425.2,1388.8 1427.8,1388.5 1428.1,1384.0 1429.8,1383.8 1430.0,1379.0 1432.8,1378.8 1433.1,1376.0 1434.8,1375.6 1435.0,1371.2 1437.8,1371.0 1437.8,1369.0 1435.0,1368.8 1434.8,1366.0 1432.8,1365.6 1432.8,1361.0 1430.0,1361.0 1429.8,1363.8 1420.2,1363.8 1420.0,1361.5 1417.8,1361.2 1417.5,1359.0 1408.1,1358.8 1407.8,1356.5 1409.8,1356.2 1410.0,1354.0 1405.0,1353.8 1404.8,1351.2 1403.1,1351.0 1402.8,1349.0 1400.0,1349.0 1399.8,1353.8 1397.8,1354.0 1397.5,1356.0 1395.0,1356.2 1394.8,1361.0 1388.1,1361.0 1387.8,1358.8 1383.1,1358.5 1382.8,1356.0 1380.0,1355.6 1379.8,1353.8 1378.1,1353.5 1378.1,1339.0 1380.0,1338.8 1380.0,1336.0 1375.2,1336.0 1375.0,1338.8 1370.0,1338.8 1369.8,1336.0 1355.0,1335.6 1355.0,1331.0 1357.8,1331.0 1358.1,1333.8 1365.0,1333.8 1365.2,1331.2 1368.1,1331.0 1368.5,1328.8 1370.0,1328.5 1370.0,1323.8 1368.1,1323.5 1368.1,1316.0 1372.8,1315.6Z"/>
<path fill="#80FF00" d="M1275.0,1287.5 1272.5,1297.5 1268.8,1302.5 1270.0,1310.0 1267.5,1317.5 1265.0,1327.5 1261.2,1335.0 1256.2,1341.2 1251.2,1346.2 1247.5,1351.2 1248.8,1357.5 1255.0,1362.5 1261.2,1361.2 1265.0,1355.0 1266.2,1348.8 1271.2,1343.8 1275.0,1337.5 1278.8,1331.2 1281.2,1322.5 1283.8,1316.2 1288.8,1315.0 1290.0,1322.5 1288.8,1331.2 1288.8,1343.8 1294.5,1343.8 1295.0,1332.5 1297.5,1327.5 1296.2,1317.5 1298.8,1308.8 1297.5,1300.0 1298.8,1287.5 1290.0,1287.5 1287.5,1300.0 1282.5,1305.0 1281.2,1295.0 1282.5,1287.5Z"/>
<path fill="#CCE64D" d="M1466.9,1426.2 1486.9,1426.0 1486.9,1448.8 1492.5,1449.0 1492.5,1458.8 1486.9,1458.8 1485.0,1453.8 1482.5,1451.2 1480.0,1453.8 1476.9,1451.2 1475.0,1441.2 1470.0,1438.8 1466.9,1435.6Z"/>
<path fill="#E6A000" d="M1071.2,1416.2 1076.2,1421.2 1080.0,1420.0 1085.0,1422.5 1090.0,1426.2 1095.0,1425.0 1100.0,1428.8 1102.5,1436.2 1107.5,1437.5 1108.8,1446.2 1112.5,1450.0 1115.0,1456.2 1118.8,1462.5 1120.0,1465.0 1125.0,1462.5 1130.0,1458.8 1131.2,1453.8 1132.5,1450.0 1136.2,1450.0 1135.0,1456.2 1132.5,1461.2 1133.8,1465.0 1137.5,1471.2 1141.2,1476.2 1137.5,1480.0 1138.8,1487.5 1142.5,1490.0 1143.8,1497.5 1141.2,1502.5 1135.0,1502.5 1132.5,1500.0 1128.8,1502.5 1125.0,1503.8 1118.8,1505.0 1117.5,1493.8 1121.2,1492.5 1126.2,1490.0 1128.8,1483.8 1126.2,1478.8 1121.2,1481.2 1115.0,1482.5 1110.0,1486.2 1107.5,1492.5 1106.2,1500.0 1102.5,1502.5 1101.2,1510.0 1096.2,1512.5 1090.0,1515.0 1087.5,1520.0 1090.0,1526.2 1095.0,1525.0 1098.8,1520.0 1102.5,1523.8 1101.2,1530.0 1102.5,1536.2 1098.8,1540.0 1093.8,1543.8 1092.5,1537.5 1087.5,1533.8 1081.2,1530.0 1077.5,1528.8 1082.5,1533.8 1082.5,1540.0 1078.8,1542.5 1076.2,1548.8 1080.0,1552.5 1077.5,1556.2 1075.0,1565.0 1072.5,1561.2 1072.5,1557.5 1065.0,1558.8 1057.5,1560.0 1052.5,1561.2 1047.5,1562.5 1045.0,1565.0 1040.0,1561.2 1035.0,1562.5 1031.2,1560.0 1030.0,1555.0 1028.8,1553.8 1033.8,1552.5 1033.0,1547.5 1037.5,1543.8 1042.5,1545.0 1045.0,1542.5 1047.5,1537.5 1051.2,1533.8 1050.0,1526.2 1051.2,1521.2 1047.5,1516.2 1040.0,1518.8 1032.5,1516.2 1026.2,1513.8 1026.2,1510.0 1030.0,1510.0 1035.0,1512.5 1040.0,1512.5 1043.8,1510.0 1045.0,1503.8 1045.0,1492.5 1041.2,1490.0 1042.5,1482.5 1046.2,1475.0 1047.5,1465.0 1051.2,1455.0 1055.0,1453.8 1060.0,1455.0 1062.0,1460.0 1065.0,1457.5 1067.5,1453.8 1072.5,1456.2 1075.0,1462.5 1080.0,1462.5 1075.0,1452.5 1070.0,1447.5 1067.5,1442.5 1068.8,1435.0 1071.2,1430.0Z"/>
<path fill="#E6A000" d="M1335.0,1388.8 1338.8,1392.5 1345.0,1395.0 1350.0,1396.2 1360.0,1393.8 1372.5,1394.5 1377.5,1398.8 1370.0,1400.0 1363.8,1401.2 1368.8,1405.0 1370.0,1412.5 1369.5,1420.0 1375.0,1422.5 1380.0,1425.0 1386.2,1430.0 1387.5,1435.0 1383.8,1440.0 1382.5,1447.5 1386.2,1452.5 1388.8,1460.0 1385.0,1465.0 1378.8,1467.5 1373.8,1465.0 1370.0,1467.5 1368.8,1473.8 1375.0,1476.2 1385.0,1477.5 1388.8,1490.0 1390.0,1497.5 1388.8,1502.5 1382.5,1505.0 1375.0,1502.5 1370.0,1501.2 1362.5,1503.8 1355.0,1505.0 1347.5,1508.8 1342.5,1510.0 1335.0,1507.5 1327.5,1505.0 1322.5,1507.5 1320.0,1512.5 1313.8,1516.2 1312.5,1521.2 1302.5,1523.8 1295.0,1525.0 1293.8,1530.0 1290.0,1530.5 1285.0,1526.2 1284.5,1516.2 1285.0,1510.0 1290.0,1505.0 1295.0,1502.5 1300.0,1498.8 1306.2,1495.0 1310.0,1490.0 1312.5,1483.8 1317.5,1476.2 1320.0,1470.0 1321.2,1461.2 1326.2,1458.8 1327.5,1456.2 1320.0,1453.8 1312.5,1451.2 1310.0,1445.0 1310.0,1430.0 1312.5,1422.5 1316.2,1420.0 1320.0,1410.0 1320.0,1401.2 1326.2,1397.5 1331.2,1393.8Z"/>
<path fill="#E6A000" d="M1422.5,1415.0 1432.5,1416.2 1432.5,1425.0 1430.0,1428.8 1436.2,1431.2 1447.5,1435.0 1457.5,1438.8 1462.5,1440.0 1463.8,1430.0 1466.2,1429.5 1467.5,1437.5 1473.8,1440.0 1477.5,1450.0 1483.8,1452.5 1487.5,1450.0 1500.0,1462.5 1486.2,1468.8 1482.5,1462.5 1475.0,1462.5 1467.5,1465.0 1460.0,1468.8 1452.5,1473.8 1447.5,1476.2 1437.5,1476.2 1430.0,1475.0 1422.5,1473.8 1418.0,1470.0 1422.5,1462.5 1422.5,1440.0 1425.0,1432.5 1420.0,1430.0 1416.2,1426.2 1422.5,1422.5Z"/>
<path fill="#E6A000" d="M1435.0,1505.0 1442.5,1502.5 1447.5,1500.0 1450.0,1490.0 1452.5,1480.0 1455.0,1487.5 1460.0,1495.0 1466.2,1498.8 1475.0,1507.5 1462.5,1515.0 1460.0,1522.5 1457.0,1523.8 1453.8,1515.0 1452.5,1508.8 1445.0,1507.5 1438.8,1507.5Z"/>
<path fill="#E6A000" d="M1077.5,1615.0 1087.5,1612.5 1100.0,1611.2 1112.5,1612.0 1122.5,1613.8 1120.0,1620.0 1115.0,1625.0 1107.5,1627.5 1102.5,1631.2 1096.2,1627.5 1088.8,1623.8 1082.5,1620.0Z"/>
<path fill="#E6A000" d="M1078.8,1638.8 1086.2,1636.2 1093.8,1637.5 1100.0,1636.2 1100.0,1640.0 1093.8,1645.0 1090.0,1650.0 1093.8,1652.5 1097.5,1656.2 1102.5,1657.5 1101.2,1665.0 1097.5,1672.5 1092.5,1677.5 1087.5,1682.5 1081.2,1691.8 1075.0,1691.8 1073.8,1680.0 1071.2,1672.5 1072.5,1665.0 1076.2,1660.0 1082.5,1657.5 1087.5,1652.5 1083.8,1647.5 1080.0,1645.0Z"/>
<path fill="#E6A000" d="M888.8,1681.2 888.2,1675.0 891.2,1670.0 891.2,1658.8 890.0,1647.5 886.2,1646.2 887.5,1642.5 891.2,1637.5 893.8,1631.2 900.0,1627.5 905.0,1628.8 908.8,1633.8 912.5,1640.0 917.5,1643.8 922.5,1646.2 921.2,1651.2 917.5,1653.8 923.8,1657.5 931.2,1656.2 934.5,1650.0 933.8,1643.8 942.5,1640.0 947.5,1636.2 950.0,1631.2 953.8,1625.0 957.5,1618.8 962.5,1615.0 967.5,1612.5 972.5,1615.0 980.0,1611.2 982.5,1605.0 985.0,1601.2 982.5,1596.2 988.8,1592.5 990.0,1588.8 992.5,1590.0 993.8,1596.2 1000.0,1600.0 1003.8,1602.5 1010.0,1605.0 1012.5,1611.2 1020.0,1612.5 1025.0,1611.2 1032.5,1608.8 1040.0,1610.0 1035.0,1603.8 1030.0,1597.5 1022.5,1595.0 1017.5,1591.2 1022.5,1588.8 1030.0,1590.0 1033.8,1588.8 1038.8,1593.8 1043.8,1600.0 1047.5,1606.2 1050.0,1612.5 1052.5,1617.5 1057.5,1616.2 1065.0,1617.5 1072.5,1622.5 1070.0,1630.0 1067.5,1635.0 1066.2,1640.0 1062.5,1645.0 1063.8,1657.5 1060.0,1665.0 1057.5,1672.5 1058.8,1682.5 1056.2,1692.5 1057.5,1700.0 1055.0,1703.8 1051.2,1710.0 1055.0,1716.2 1060.0,1720.0 1066.2,1725.0 1068.8,1732.5 1073.8,1735.0 1073.8,1755.0 1077.5,1755.0 1077.5,1738.8 1082.5,1742.5 1087.5,1747.5 1093.8,1752.5 1101.2,1753.8 1105.0,1757.5 1117.5,1758.8 1122.5,1765.0 1123.8,1780.0 1132.5,1780.0 1140.0,1776.2 1147.5,1780.0 1152.5,1782.5 1155.0,1772.5 1158.8,1762.5 1163.8,1761.2 1168.8,1766.2 1170.0,1777.5 1172.5,1783.8 1177.5,1787.5 1182.5,1795.0 1183.8,1803.8 1177.5,1806.2 1171.2,1803.8 1166.2,1807.5 1165.0,1817.5 1170.0,1822.5 1175.0,1825.0 1177.5,1832.5 1177.5,1845.0 1175.0,1852.5 1177.5,1857.5 1182.5,1870.0 1185.0,1873.8 1188.8,1867.5 1187.5,1858.8 1183.8,1856.2 1186.2,1852.5 1195.0,1847.5 1201.2,1845.0 1202.5,1835.0 1208.8,1831.2 1212.5,1825.0 1206.2,1820.0 1200.0,1815.0 1197.5,1805.0 1193.8,1801.2 1190.0,1796.2 1195.0,1797.5 1201.2,1802.5 1206.2,1801.2 1210.0,1792.5 1217.5,1790.0 1225.0,1786.2 1228.8,1782.5 1232.5,1772.5 1232.5,1762.5 1228.8,1757.5 1228.8,1735.0 1235.0,1732.5 1240.0,1732.5 1245.0,1727.5 1247.5,1720.0 1245.0,1715.0 1250.0,1711.2 1257.5,1712.5 1265.0,1720.0 1270.0,1725.0 1276.2,1720.0 1277.5,1712.5 1270.0,1707.5 1262.5,1703.8 1252.5,1702.5 1245.0,1698.8 1235.0,1696.2 1227.5,1697.5 1227.5,1715.0 1222.5,1722.5 1215.0,1732.5 1207.5,1732.5 1202.5,1745.0 1192.5,1747.5 1188.8,1750.0 1185.0,1745.0 1178.8,1737.5 1177.5,1732.5 1185.0,1720.0 1186.2,1712.5 1178.8,1710.0 1177.5,1705.0 1167.5,1701.2 1160.0,1707.5 1157.5,1717.5 1152.5,1725.0 1148.8,1720.0 1143.8,1722.5 1142.5,1735.0 1131.2,1735.0 1130.0,1727.5 1122.5,1725.0 1117.5,1730.0 1112.5,1730.0 1111.2,1722.5 1116.2,1720.0 1117.5,1710.0 1112.5,1705.0 1108.8,1700.0 1108.8,1696.2 1117.5,1692.5 1127.5,1691.2 1137.5,1690.0 1142.5,1687.5 1143.8,1693.8 1136.2,1697.5 1137.5,1705.0 1142.5,1710.0 1152.5,1707.5 1158.8,1705.0 1157.5,1696.2 1156.2,1687.5 1152.5,1680.0 1143.8,1681.2 1142.5,1670.0 1146.2,1665.0 1147.5,1653.8 1157.5,1652.5 1165.0,1647.5 1170.0,1645.0 1177.5,1637.5 1176.2,1630.0 1167.5,1623.8 1170.0,1617.5 1176.2,1616.2 1183.8,1617.5 1185.0,1612.5 1173.8,1608.8 1168.8,1605.0 1167.5,1600.0 1172.5,1592.5 1177.5,1587.5 1185.0,1585.0 1192.5,1586.2 1195.0,1592.5 1200.0,1597.5 1203.8,1601.2 1208.8,1600.0 1210.0,1592.5 1217.5,1586.2 1225.0,1582.5 1230.0,1581.2 1237.5,1585.0 1245.0,1585.0 1250.0,1578.8 1252.5,1572.5 1262.5,1570.0 1272.5,1568.8 1278.8,1567.5 1280.0,1572.5 1287.5,1577.5 1290.0,1573.8 1297.5,1570.0 1305.0,1568.8 1307.5,1573.8 1310.0,1562.5 1306.2,1567.5 1301.2,1563.8 1298.8,1558.8 1297.5,1550.0 1303.8,1547.5 1308.8,1545.0 1312.5,1542.5 1317.5,1541.2 1322.5,1536.2 1327.5,1531.2 1335.0,1532.5 1338.8,1527.5 1345.0,1522.5 1348.8,1521.2 1350.0,1525.0 1355.0,1527.5 1360.0,1530.0 1362.5,1525.0 1367.5,1520.0 1368.8,1530.0 1373.8,1533.8 1378.8,1535.0 1373.8,1540.0 1370.0,1545.0 1366.2,1551.2 1362.5,1558.8 1367.5,1557.5 1372.5,1551.2 1377.5,1545.0 1382.5,1540.0 1388.8,1536.2 1397.5,1540.0 1400.0,1545.0 1396.2,1550.0 1395.0,1560.0 1401.2,1561.2 1406.2,1565.0 1412.5,1567.5 1420.0,1570.0 1428.0,1570.0 1515.0,1570.0 1515.0,1686.2 1372.0,1692.5 1365.0,1690.0 1355.0,1688.8 1350.0,1686.2 1340.0,1683.8 1332.5,1688.8 1330.0,1693.8 1327.5,1691.2 1320.0,1691.2 1310.0,1692.5 1311.2,1702.5 1313.8,1707.5 1312.5,1712.5 1322.5,1712.5 1327.5,1715.0 1330.0,1720.0 1325.0,1725.0 1321.2,1728.8 1318.8,1735.0 1317.5,1740.0 1310.0,1743.8 1300.0,1747.5 1298.8,1752.5 1292.5,1753.8 1293.8,1760.0 1287.5,1762.5 1290.0,1767.5 1285.0,1773.8 1297.5,1777.0 1287.5,1780.0 1277.5,1790.0 1272.5,1785.0 1267.5,1787.5 1262.5,1780.0 1263.8,1772.5 1261.2,1762.5 1257.5,1762.5 1258.8,1772.5 1257.5,1787.5 1261.2,1792.5 1265.0,1795.0 1263.8,1802.5 1267.5,1807.5 1266.2,1815.0 1261.2,1820.0 1257.5,1825.0 1255.0,1831.2 1254.5,1841.2 1250.0,1842.0 1250.0,1832.5 1242.5,1828.8 1235.0,1831.2 1227.5,1832.5 1225.0,1840.0 1223.8,1850.0 1220.0,1857.5 1218.8,1865.0 1215.0,1872.5 1212.5,1878.8 1217.5,1886.2 1218.8,1900.0 1223.8,1905.0 1230.0,1902.5 1234.5,1901.2 1233.8,1915.0 1225.0,1922.5 1210.0,1905.0 1195.0,1892.5 1172.5,1882.5 1162.5,1867.5 1140.0,1847.5 1120.0,1830.0 1110.0,1810.0 1095.0,1797.5 1080.0,1787.5 1065.0,1782.5 1057.5,1780.0 1040.0,1772.5 940.0,1710.0 890.0,1700.0Z"/>
<path fill="#E6A000" d="M1335.0,1785.0 1338.8,1782.5 1360.0,1781.2 1360.0,1800.0 1349.5,1810.0 1348.0,1825.0 1346.2,1832.5 1344.5,1840.0 1337.5,1842.5 1330.0,1845.0 1323.8,1850.0 1317.5,1848.8 1313.8,1842.5 1313.8,1835.0 1320.0,1830.0 1322.5,1822.5 1317.5,1817.5 1315.0,1812.5 1320.0,1808.8 1327.5,1811.2 1335.0,1810.0 1337.5,1800.0 1335.0,1792.5Z"/>
<path fill="#A6E64D" d="M1333.8,1660.0 1335.0,1653.8 1342.5,1651.2 1350.0,1650.0 1355.0,1646.2 1360.0,1651.2 1367.5,1652.5 1375.0,1653.8 1382.5,1652.5 1390.0,1650.0 1397.5,1645.0 1405.0,1646.2 1412.5,1650.0 1410.0,1655.0 1402.5,1657.5 1395.0,1662.5 1390.0,1665.0 1385.0,1667.5 1380.0,1662.5 1375.0,1660.0 1367.5,1662.5 1360.0,1665.0 1352.5,1667.5 1345.0,1668.8 1337.5,1670.0 1333.8,1667.5Z"/>
<path fill="#F2A600" d="M1190.0,1677.5 1200.0,1673.8 1212.5,1675.0 1220.0,1680.0 1227.5,1685.0 1235.0,1690.0 1240.0,1695.0 1232.5,1696.2 1226.2,1700.0 1227.5,1710.0 1225.0,1717.5 1220.0,1722.5 1215.0,1730.0 1208.8,1732.5 1207.5,1742.5 1200.0,1745.0 1192.5,1747.5 1187.5,1750.0 1185.0,1743.8 1181.2,1738.8 1178.8,1732.5 1182.5,1726.2 1186.2,1720.0 1178.8,1715.0 1178.8,1705.0 1185.0,1700.0 1187.5,1690.0 1186.2,1683.8Z"/>
<path fill="#FFFF00" d="M1253.1,1256.2 1257.8,1256.2 1258.1,1259.0 1260.0,1259.4 1260.2,1261.2 1265.0,1261.5 1265.2,1264.0 1270.0,1264.4 1270.0,1268.8 1265.2,1269.0 1265.0,1274.0 1258.1,1274.4 1258.1,1283.8 1260.0,1284.0 1260.2,1289.0 1263.1,1289.4 1263.1,1296.0 1265.0,1296.2 1265.2,1303.8 1269.8,1304.0 1269.8,1306.2 1268.1,1306.5 1267.8,1311.0 1263.1,1311.0 1262.5,1309.0 1258.1,1309.0 1257.8,1315.6 1253.1,1315.6 1252.8,1309.0 1250.0,1308.8 1249.8,1306.2 1243.1,1306.2 1242.5,1308.8 1240.0,1309.0 1238.1,1311.2 1237.8,1315.6 1235.0,1316.2 1234.8,1318.8 1232.8,1319.4 1232.5,1321.0 1230.0,1321.2 1230.0,1330.6 1232.8,1331.0 1232.8,1336.0 1230.0,1336.2 1229.8,1338.8 1227.8,1338.8 1227.5,1336.2 1225.0,1336.5 1224.8,1339.0 1223.1,1339.4 1222.8,1343.8 1218.1,1344.0 1217.8,1346.0 1213.1,1346.2 1213.1,1348.8 1217.5,1348.8 1218.1,1346.0 1224.8,1346.0 1225.2,1348.8 1227.8,1349.0 1228.1,1350.6 1234.4,1350.6 1235.0,1349.0 1237.8,1349.0 1238.1,1355.6 1242.8,1356.0 1242.8,1358.8 1240.0,1359.0 1240.0,1363.5 1244.8,1363.8 1245.0,1370.6 1247.8,1371.0 1248.1,1373.8 1252.8,1374.0 1253.1,1378.8 1255.0,1379.0 1255.2,1381.0 1258.1,1381.2 1258.5,1383.8 1265.0,1384.0 1265.2,1385.6 1267.8,1386.0 1268.1,1388.8 1282.8,1388.8 1283.1,1393.8 1285.0,1394.0 1285.2,1395.6 1289.8,1396.0 1290.0,1398.5 1293.1,1398.8 1293.5,1401.0 1295.0,1401.2 1295.0,1413.8 1297.8,1414.0 1298.1,1416.2 1300.0,1416.5 1300.2,1418.8 1302.5,1418.8 1302.8,1414.0 1304.8,1413.8 1305.0,1409.0 1307.5,1409.0 1307.8,1411.2 1309.8,1411.5 1310.0,1428.8 1308.1,1429.0 1307.8,1445.6 1305.0,1448.8 1305.0,1452.5 1145.0,1452.5 1144.8,1438.8 1143.1,1438.5 1142.8,1433.8 1141.0,1433.5 1140.6,1430.6 1138.1,1430.2 1137.8,1425.6 1136.2,1425.2 1136.0,1423.1 1133.1,1422.8 1133.1,1418.8 1136.0,1418.5 1136.2,1416.0 1141.0,1416.0 1141.2,1418.8 1144.8,1418.8 1144.8,1416.2 1143.1,1416.0 1142.8,1411.2 1141.0,1411.0 1140.6,1406.2 1136.2,1406.0 1136.0,1404.0 1133.1,1403.8 1133.1,1399.4 1140.6,1399.0 1141.0,1393.8 1143.1,1393.5 1143.5,1391.0 1150.0,1390.6 1150.2,1388.5 1152.8,1388.5 1152.8,1386.2 1150.0,1386.0 1150.0,1376.2 1148.1,1376.0 1147.8,1371.0 1145.0,1370.6 1145.0,1364.0 1150.0,1364.0 1150.2,1366.0 1153.1,1366.2 1153.5,1368.8 1155.0,1369.0 1155.2,1371.0 1159.8,1371.0 1160.0,1378.8 1163.1,1379.0 1163.5,1380.6 1170.0,1381.0 1170.2,1383.8 1172.8,1383.8 1173.1,1380.6 1174.8,1380.2 1174.8,1376.2 1172.8,1376.0 1172.5,1374.0 1170.0,1373.8 1169.8,1364.0 1168.1,1363.8 1167.8,1361.2 1163.1,1361.0 1162.8,1358.8 1158.1,1358.5 1158.1,1356.2 1163.1,1356.0 1165.0,1353.8 1165.2,1349.4 1168.1,1348.8 1168.5,1346.0 1170.0,1346.0 1170.2,1348.8 1174.8,1348.8 1175.0,1344.0 1182.8,1343.8 1183.1,1336.2 1185.0,1336.0 1185.2,1331.0 1195.0,1330.6 1195.2,1328.8 1197.8,1328.5 1198.1,1326.2 1202.8,1326.0 1203.1,1323.8 1205.0,1323.5 1205.2,1321.2 1209.8,1321.0 1210.0,1325.6 1217.8,1325.6 1218.1,1323.8 1220.0,1323.5 1220.2,1321.2 1222.8,1321.0 1223.1,1319.0 1200.0,1319.0 1199.8,1321.0 1197.8,1321.0 1198.1,1316.2 1202.8,1316.0 1203.1,1314.0 1207.8,1313.8 1208.1,1311.2 1209.8,1311.0 1209.8,1308.8 1208.1,1308.5 1208.1,1306.2 1210.0,1306.0 1210.2,1304.0 1212.8,1303.8 1213.1,1301.0 1214.8,1300.6 1214.8,1298.8 1213.1,1298.5 1213.1,1296.2 1217.5,1296.0 1218.1,1291.2 1219.8,1291.0 1220.0,1281.2 1224.8,1281.2 1225.0,1284.0 1227.8,1284.0 1227.8,1286.2 1223.1,1286.5 1223.1,1298.8 1225.0,1299.0 1225.2,1301.0 1232.8,1301.2 1233.1,1303.8 1235.0,1304.0 1235.2,1306.0 1239.8,1306.0 1240.0,1301.2 1242.5,1301.0 1242.8,1298.8 1245.0,1298.5 1245.2,1296.0 1247.8,1295.6 1248.1,1286.2 1249.8,1286.0 1250.0,1281.2 1248.1,1281.0 1248.1,1279.0 1250.0,1278.8 1250.0,1264.0 1252.8,1263.8Z"/>
<path fill="#FFFF00" d="M1145.0,1450.8 1146.2,1456.2 1150.0,1465.0 1175.0,1490.0 1170.5,1503.8 1172.5,1510.0 1169.5,1516.2 1167.5,1525.0 1170.0,1530.0 1168.8,1537.5 1165.0,1542.5 1163.8,1552.5 1161.2,1560.0 1158.0,1565.0 1160.0,1570.0 1172.5,1569.5 1175.0,1565.0 1180.0,1561.2 1185.0,1558.8 1191.2,1555.0 1197.5,1552.5 1205.0,1551.2 1210.0,1547.0 1220.0,1546.2 1227.5,1545.0 1230.0,1541.2 1240.0,1542.0 1250.0,1540.8 1255.0,1540.0 1262.5,1536.2 1263.8,1531.2 1270.0,1528.8 1275.0,1525.0 1280.0,1521.2 1284.5,1516.2 1285.0,1510.0 1290.0,1505.0 1295.0,1502.5 1300.0,1498.8 1306.2,1495.0 1310.0,1490.0 1312.5,1483.8 1317.5,1476.2 1320.0,1470.0 1321.2,1461.2 1326.2,1458.8 1325.0,1455.0 1312.5,1452.5 1307.5,1450.0 1305.0,1440.0 1145.0,1440.0Z"/>
<path fill="#FFFF00" d="M1056.0,1316.2 1057.8,1316.2 1058.1,1335.6 1061.0,1336.0 1061.2,1338.8 1062.8,1338.8 1062.8,1334.0 1061.0,1333.8 1061.0,1331.2 1070.6,1331.0 1071.0,1335.6 1075.6,1335.6 1076.0,1333.8 1080.6,1333.5 1081.0,1331.0 1092.8,1331.0 1093.1,1335.6 1095.6,1336.0 1096.0,1338.8 1101.0,1339.0 1100.6,1341.2 1098.1,1341.5 1098.1,1348.8 1101.0,1349.0 1101.2,1351.0 1106.0,1351.2 1106.2,1353.8 1107.8,1353.5 1108.1,1351.0 1116.0,1351.0 1116.0,1358.8 1108.1,1359.0 1107.8,1365.6 1103.1,1366.0 1102.8,1363.8 1101.0,1363.5 1101.0,1361.2 1102.8,1361.0 1102.8,1359.0 1100.6,1358.8 1100.6,1356.0 1093.1,1356.2 1093.1,1360.6 1096.0,1361.0 1096.2,1366.0 1098.1,1366.2 1098.5,1368.8 1101.0,1369.0 1101.2,1376.2 1106.0,1376.5 1106.0,1378.8 1110.6,1378.8 1111.0,1374.0 1115.6,1374.4 1116.0,1376.9 1117.8,1377.2 1117.8,1382.5 1063.1,1382.5 1062.8,1371.2 1061.0,1371.0 1060.6,1368.8 1056.2,1368.5 1056.0,1366.2 1051.0,1366.0 1050.6,1360.6 1048.1,1360.6 1047.8,1358.8 1046.0,1358.5 1045.6,1355.0 1041.0,1354.8 1040.6,1351.2 1038.8,1351.2 1038.5,1353.8 1036.2,1354.0 1036.0,1360.6 1038.1,1361.0 1038.5,1363.5 1043.1,1363.5 1043.1,1365.6 1038.5,1366.0 1038.1,1363.8 1033.1,1364.0 1032.8,1366.0 1028.1,1366.0 1027.8,1363.8 1026.0,1363.5 1025.6,1356.0 1023.1,1355.6 1023.1,1351.2 1033.1,1351.0 1033.5,1348.8 1036.0,1348.5 1033.1,1348.1 1033.1,1343.8 1036.0,1343.5 1036.2,1341.2 1041.0,1341.0 1041.2,1343.5 1046.0,1343.8 1046.0,1341.2 1041.2,1341.0 1041.0,1334.0 1046.0,1333.8 1046.2,1331.2 1048.1,1331.0 1048.5,1328.8 1051.0,1328.5 1051.2,1321.2 1053.1,1321.0 1053.5,1318.8 1056.0,1318.5Z"/>
<path fill="#FFFF00" d="M1061.2,1367.5 1061.2,1373.8 1055.6,1374.4 1055.6,1383.8 1047.5,1384.4 1046.2,1388.8 1047.5,1391.9 1041.2,1395.0 1046.2,1400.0 1055.0,1407.5 1053.8,1412.5 1057.5,1415.0 1058.8,1410.0 1062.5,1410.0 1065.0,1413.8 1067.5,1410.0 1072.5,1413.8 1076.2,1416.2 1081.2,1418.1 1087.5,1422.5 1091.2,1421.2 1097.5,1420.0 1106.2,1425.0 1110.6,1426.2 1110.6,1438.8 1106.2,1439.4 1106.2,1447.5 1108.8,1450.0 1112.5,1451.2 1113.1,1456.2 1116.2,1457.5 1118.1,1465.0 1120.6,1465.6 1121.2,1461.2 1127.5,1460.6 1130.6,1456.2 1131.2,1451.2 1133.1,1450.0 1132.5,1442.5 1130.0,1440.0 1128.8,1435.0 1126.2,1433.8 1128.1,1431.2 1127.5,1420.0 1125.0,1412.5 1123.1,1410.0 1125.0,1407.5 1120.0,1405.0 1118.1,1398.8 1116.2,1395.0 1113.1,1392.5 1111.2,1387.5 1116.2,1386.2 1118.1,1383.8 1117.5,1375.0 1111.2,1374.4 1110.6,1378.8 1103.8,1379.4 1101.2,1375.6 1100.6,1367.5Z"/>
<path fill="#A6E64D" d="M1053.8,1386.2 1056.2,1385.0 1061.2,1390.0 1065.0,1388.8 1068.1,1392.5 1071.2,1398.8 1076.2,1399.4 1080.6,1401.2 1080.6,1405.6 1076.2,1405.0 1071.2,1403.1 1068.1,1400.0 1063.8,1400.6 1061.2,1395.0 1056.2,1391.2 1053.1,1388.8Z"/>
<path fill="#FFFF00" d="M1422.5,1412.5 1425.0,1415.0 1422.5,1422.5 1416.2,1426.2 1420.0,1430.0 1425.0,1432.5 1422.5,1440.0 1422.5,1462.5 1418.0,1470.0 1422.5,1473.8 1430.0,1475.0 1437.5,1476.2 1435.0,1480.0 1430.0,1485.0 1425.0,1495.0 1425.0,1507.5 1420.0,1512.5 1410.0,1513.8 1402.5,1512.5 1395.0,1507.5 1388.8,1502.5 1390.0,1497.5 1388.8,1490.0 1385.0,1477.5 1375.0,1476.2 1368.8,1473.8 1370.0,1467.5 1373.8,1465.0 1378.8,1467.5 1385.0,1465.0 1388.8,1460.0 1386.2,1452.5 1382.5,1447.5 1383.8,1440.0 1387.5,1435.0 1386.2,1430.0 1395.0,1426.2 1405.0,1422.5 1412.5,1418.8 1417.5,1415.0Z"/>
<path fill="#CCCCCC" d="M1285.0,1516.2 1285.0,1526.2 1290.0,1530.5 1293.8,1530.0 1295.0,1525.0 1302.5,1523.8 1312.5,1521.2 1311.2,1525.0 1308.8,1531.2 1310.0,1538.8 1307.5,1542.5 1303.8,1547.5 1297.5,1550.0 1297.5,1555.0 1287.5,1556.2 1277.5,1557.5 1270.0,1560.0 1260.0,1561.2 1250.0,1563.8 1240.0,1565.0 1230.0,1567.5 1220.0,1570.0 1210.0,1572.5 1200.0,1575.0 1190.0,1577.5 1183.8,1581.2 1180.0,1585.0 1166.2,1585.5 1165.0,1581.2 1178.8,1580.5 1185.0,1575.0 1186.2,1567.5 1190.0,1562.5 1197.5,1558.8 1210.0,1555.0 1211.2,1547.5 1220.0,1546.2 1227.5,1545.0 1230.0,1541.2 1240.0,1542.0 1250.0,1540.8 1255.0,1540.0 1262.5,1536.2 1263.8,1531.2 1270.0,1528.8 1275.0,1525.0 1280.0,1521.2 1284.5,1516.2Z"/>
<path fill="#FF0000" d="M1132.5,1460.5 1137.5,1456.2 1142.5,1456.2 1143.0,1462.5 1148.8,1465.0 1153.8,1470.0 1156.2,1478.0 1165.5,1482.0 1172.5,1485.0 1181.2,1483.0 1182.5,1480.0 1179.5,1476.2 1175.0,1476.2 1172.5,1470.0 1166.2,1465.0 1161.2,1463.8 1160.0,1459.5 1165.5,1460.0 1171.2,1463.8 1175.0,1468.8 1185.0,1470.5 1189.5,1472.0 1188.8,1480.0 1193.8,1481.2 1198.0,1482.5 1200.0,1486.2 1203.8,1487.5 1208.8,1490.0 1215.0,1486.2 1225.0,1482.5 1235.0,1481.2 1242.5,1478.8 1250.0,1476.2 1260.0,1472.5 1265.0,1467.5 1266.2,1465.0 1272.5,1463.8 1274.5,1470.0 1285.0,1468.8 1295.0,1466.2 1302.5,1463.8 1307.5,1460.0 1307.5,1450.0 1305.0,1448.8 1310.0,1448.8 1312.5,1452.5 1318.8,1453.8 1327.5,1456.2 1326.2,1458.8 1321.2,1461.2 1320.0,1470.0 1317.5,1475.0 1313.8,1476.2 1312.5,1483.8 1307.5,1482.5 1300.0,1479.5 1295.0,1480.0 1288.8,1482.0 1285.0,1485.0 1280.0,1487.5 1273.8,1488.8 1270.0,1493.8 1263.8,1497.5 1256.2,1501.2 1250.0,1504.5 1247.5,1507.5 1233.8,1508.8 1232.5,1515.0 1220.0,1515.5 1217.5,1513.8 1208.8,1513.0 1207.5,1510.5 1195.0,1510.0 1186.2,1507.5 1180.0,1505.5 1175.0,1503.8 1171.2,1499.5 1167.5,1497.5 1162.5,1494.5 1156.2,1490.0 1150.0,1486.2 1146.2,1482.5 1142.5,1477.5 1137.5,1471.2 1135.0,1466.2Z"/>
<path fill="#00A600" d="M1051.2,1281.0 1050.6,1285.6 1048.1,1286.2 1047.5,1290.6 1046.0,1291.2 1045.6,1295.6 1043.1,1296.2 1042.5,1298.8 1036.2,1299.4 1035.6,1301.0 1023.1,1301.5 1022.5,1303.8 1020.6,1304.4 1020.0,1305.6 1013.1,1306.2 1012.5,1308.8 1006.2,1308.8 1006.2,1310.6 1017.8,1311.0 1017.8,1313.5 1015.6,1315.6 1013.1,1315.6 1011.2,1313.8 1010.6,1315.6 1000.0,1316.0 1001.2,1309.4 1003.8,1306.2 1004.4,1301.9 1008.1,1298.8 1011.2,1297.5 1016.2,1295.0 1021.2,1292.5 1026.2,1289.8 1031.2,1287.5 1036.2,1284.8 1041.2,1282.5 1046.2,1280.0 1051.2,1278.8Z"/>
<path fill="#00A600" d="M1068.1,1251.2 1071.0,1251.2 1071.0,1255.6 1067.8,1256.0 1067.8,1259.0 1065.6,1259.0 1066.0,1255.6 1067.8,1255.0Z"/>
<path fill="#00A600" d="M997.5,1321.0 1001.0,1321.0 1001.0,1323.8 997.5,1323.8Z"/>
<path fill="#A6E6E6" d="M1062.5,1800.0 1068.8,1810.0 1077.5,1813.8 1086.2,1816.2 1095.0,1818.8 1100.0,1826.2 1106.2,1835.0 1111.2,1843.8 1117.5,1850.0 1125.0,1856.2 1135.0,1861.2 1145.0,1866.2 1155.0,1867.5 1165.0,1872.5 1175.0,1890.0 1200.0,1915.0 1225.0,1932.0 1233.8,1931.2 1234.5,1913.8 1237.5,1912.5 1243.8,1913.0 1246.2,1918.8 1248.8,1922.5 1255.0,1917.5 1260.0,1916.2 1267.5,1920.0 1291.2,1920.0 1295.0,1916.2 1300.0,1912.5 1303.8,1908.0 1308.8,1908.8 1312.5,1940.0 1250.0,1990.0 1175.0,1990.0 1050.0,1865.0 1050.0,1800.0Z"/>
<path fill="#CC0000" d="M1056.2,1778.8 1071.2,1778.0 1077.5,1778.8 1078.8,1783.8 1085.0,1786.2 1091.2,1790.0 1100.0,1792.0 1102.5,1800.0 1110.0,1803.8 1116.2,1808.8 1117.5,1815.0 1122.5,1818.8 1127.5,1826.2 1135.0,1832.5 1141.2,1837.5 1145.0,1846.2 1150.0,1852.5 1157.5,1858.0 1165.0,1866.2 1172.5,1872.5 1180.0,1877.5 1186.2,1882.0 1195.0,1887.5 1205.0,1893.0 1212.5,1897.5 1217.5,1902.5 1223.8,1907.5 1230.0,1912.5 1233.8,1916.2 1234.5,1931.2 1226.2,1932.5 1220.0,1930.0 1212.5,1923.8 1205.0,1917.5 1198.8,1911.2 1195.0,1900.0 1192.5,1895.5 1170.0,1895.0 1165.0,1887.5 1165.0,1873.8 1160.0,1867.5 1152.5,1861.2 1143.8,1853.8 1135.0,1846.2 1127.5,1841.2 1120.0,1836.2 1113.8,1828.8 1112.5,1820.0 1106.2,1815.0 1101.2,1807.5 1095.0,1801.2 1087.5,1800.0 1081.2,1797.5 1078.8,1792.5 1066.2,1791.2 1065.5,1787.5 1060.0,1782.5Z"/>
<path fill="#BFFFB3" d="M897.5,1606.2 897.0,1612.5 902.5,1613.8 907.5,1618.8 908.8,1625.0 913.0,1627.5 900.0,1627.5 893.8,1631.2 891.2,1637.5 887.0,1643.0 886.2,1646.2 890.0,1647.5 891.2,1658.8 891.2,1670.0 888.2,1675.0 888.2,1681.2 891.2,1686.2 891.2,1688.8 871.2,1689.5 865.0,1685.0 863.0,1680.0 862.5,1672.5 850.0,1672.5 850.0,1635.0 877.5,1622.5 890.0,1606.2Z"/>
<path fill="#CC0000" d="M850.0,1683.8 853.8,1677.5 858.8,1673.8 862.5,1673.8 863.0,1680.0 865.0,1685.0 871.2,1688.8 880.0,1688.8 926.2,1688.0 922.5,1691.2 917.5,1695.0 915.0,1697.5 898.8,1697.5 897.5,1700.0 877.5,1700.0 876.2,1697.5 867.5,1696.2 860.0,1693.8 853.8,1691.2Z"/>
<path fill="#CC0000" d="M961.2,1691.2 965.0,1692.5 970.0,1696.2 976.2,1700.0 976.2,1703.8 970.0,1700.0 965.0,1697.0 961.2,1695.0Z"/>
<path fill="#F0F05A" d="M857.5,1693.8 855.0,1700.0 870.0,1710.0 877.5,1715.0 883.8,1720.0 891.2,1720.0 896.2,1716.2 902.5,1711.2 907.5,1706.2 915.0,1698.0 898.8,1698.0 897.5,1700.5 877.5,1700.5 876.2,1698.0 867.5,1696.8Z"/>
</g>
</g>
<g fill="none" stroke="#000" stroke-width="3">
<path d="M848.5,119.5V1979H2031.5V119.5"/>
<path d="M848.5,120H2031.5" stroke-width="1.6"/>
<path d="M1024.4,1979v16.5M1523.4,1979v16.5M2022.4,1979v16.5"/>
<path d="M848.5,1581.3h-16.5M848.5,1082.3h-16.5M848.5,583.3h-16.5"/>
</g>
<g font-size="35" letter-spacing="-0.25" text-anchor="middle">
<text x="1024.4" y="2043">455000</text><text x="1523.4" y="2043">460000</text><text x="2022.4" y="2043">465000</text>
<text transform="translate(822,1581.3) rotate(-90)">4085000</text>
<text transform="translate(822,1082.3) rotate(-90)">4090000</text>
<text transform="translate(822,583.3) rotate(-90)">4095000</text>
</g>
<g>
<rect x="2067.5" y="185.5" width="29" height="24" rx="1.5" fill="#FF0000" stroke="#000" stroke-width="3"/>
<text x="2132" y="211.8" font-size="39.7" letter-spacing="-0.27">Tejido urbano discontinuo</text>
<rect x="2067.5" y="263.6" width="29" height="24" rx="1.5" fill="#CC0000" stroke="#000" stroke-width="3"/>
<text x="2132" y="289.9" font-size="39.7" letter-spacing="-0.27">Redes viarias, ferroviarias y terrenos asociados</text>
<rect x="2067.5" y="341.6" width="29" height="24" rx="1.5" fill="#F2A600" stroke="#000" stroke-width="3"/>
<text x="2132" y="367.9" font-size="39.7" letter-spacing="-0.27">Frutales</text>
<rect x="2067.5" y="419.7" width="29" height="24" rx="1.5" fill="#E6A000" stroke="#000" stroke-width="3"/>
<text x="2132" y="446.0" font-size="39.7" letter-spacing="-0.27">Olivares</text>
<rect x="2067.5" y="497.7" width="29" height="24" rx="1.5" fill="#F0F05A" stroke="#000" stroke-width="3"/>
<text x="2132" y="524.0" font-size="39.7" letter-spacing="-0.27">Praderas</text>
<rect x="2067.5" y="575.8" width="29" height="24" rx="1.5" fill="#FFFF00" stroke="#000" stroke-width="3"/>
<text x="2132" y="602.1" font-size="39.7" letter-spacing="-0.27">Mosaico de cultivos</text>
<rect x="2067.5" y="653.9" width="29" height="24" rx="1.5" fill="#FFCC4D" stroke="#000" stroke-width="3"/>
<text x="2132" y="680.2" font-size="39.7" letter-spacing="-0.27">Terrenos principalmente agrícolas, pero con importantes espacios de vegetación natural</text>
<rect x="2067.5" y="731.9" width="29" height="24" rx="1.5" fill="#F2CCA6" stroke="#000" stroke-width="3"/>
<text x="2132" y="758.2" font-size="39.7" letter-spacing="-0.27">Sistemas agroforestales</text>
<rect x="2067.5" y="810.0" width="29" height="24" rx="1.5" fill="#80FF00" stroke="#000" stroke-width="3"/>
<text x="2132" y="836.3" font-size="39.7" letter-spacing="-0.27">Bosques de frondosas</text>
<rect x="2067.5" y="888.0" width="29" height="24" rx="1.5" fill="#00A600" stroke="#000" stroke-width="3"/>
<text x="2132" y="892.3" font-size="39.7" letter-spacing="-0.27">Bosques de coniferas</text>
<rect x="2067.5" y="966.1" width="29" height="24" rx="1.5" fill="#4DE600" stroke="#000" stroke-width="3"/>
<text x="2132" y="992.4" font-size="39.7" letter-spacing="-0.27">Bosque mixto</text>
<rect x="2067.5" y="1044.2" width="29" height="24" rx="1.5" fill="#CCE64D" stroke="#000" stroke-width="3"/>
<text x="2132" y="1070.5" font-size="39.7" letter-spacing="-0.27">Pastizales naturales</text>
<rect x="2067.5" y="1122.2" width="29" height="24" rx="1.5" fill="#A6FF80" stroke="#000" stroke-width="3"/>
<text x="2132" y="1148.5" font-size="39.7" letter-spacing="-0.27">Landas y matorrales</text>
<rect x="2067.5" y="1200.3" width="29" height="24" rx="1.5" fill="#A6E64D" stroke="#000" stroke-width="3"/>
<text x="2132" y="1226.6" font-size="39.7" letter-spacing="-0.27">Vegetación esclerofila</text>
<rect x="2067.5" y="1278.3" width="29" height="24" rx="1.5" fill="#A6E600" stroke="#000" stroke-width="3"/>
<text x="2132" y="1304.6" font-size="39.7" letter-spacing="-0.27">Matorral boscoso de transición</text>
<rect x="2067.5" y="1356.4" width="29" height="24" rx="1.5" fill="#CCCCCC" stroke="#000" stroke-width="3"/>
<text x="2132" y="1382.7" font-size="39.7" letter-spacing="-0.27">Roquedo</text>
<rect x="2067.5" y="1434.5" width="29" height="24" rx="1.5" fill="#BFFFB3" stroke="#000" stroke-width="3"/>
<text x="2132" y="1460.8" font-size="39.7" letter-spacing="-0.27">Espacios con vegetación escasa</text>
<rect x="2067.5" y="1512.5" width="29" height="24" rx="1.5" fill="#A6E6E6" stroke="#000" stroke-width="3"/>
<text x="2132" y="1538.8" font-size="39.7" letter-spacing="-0.27">Láminas de agua</text>
</g>
</svg>
</body></html>
